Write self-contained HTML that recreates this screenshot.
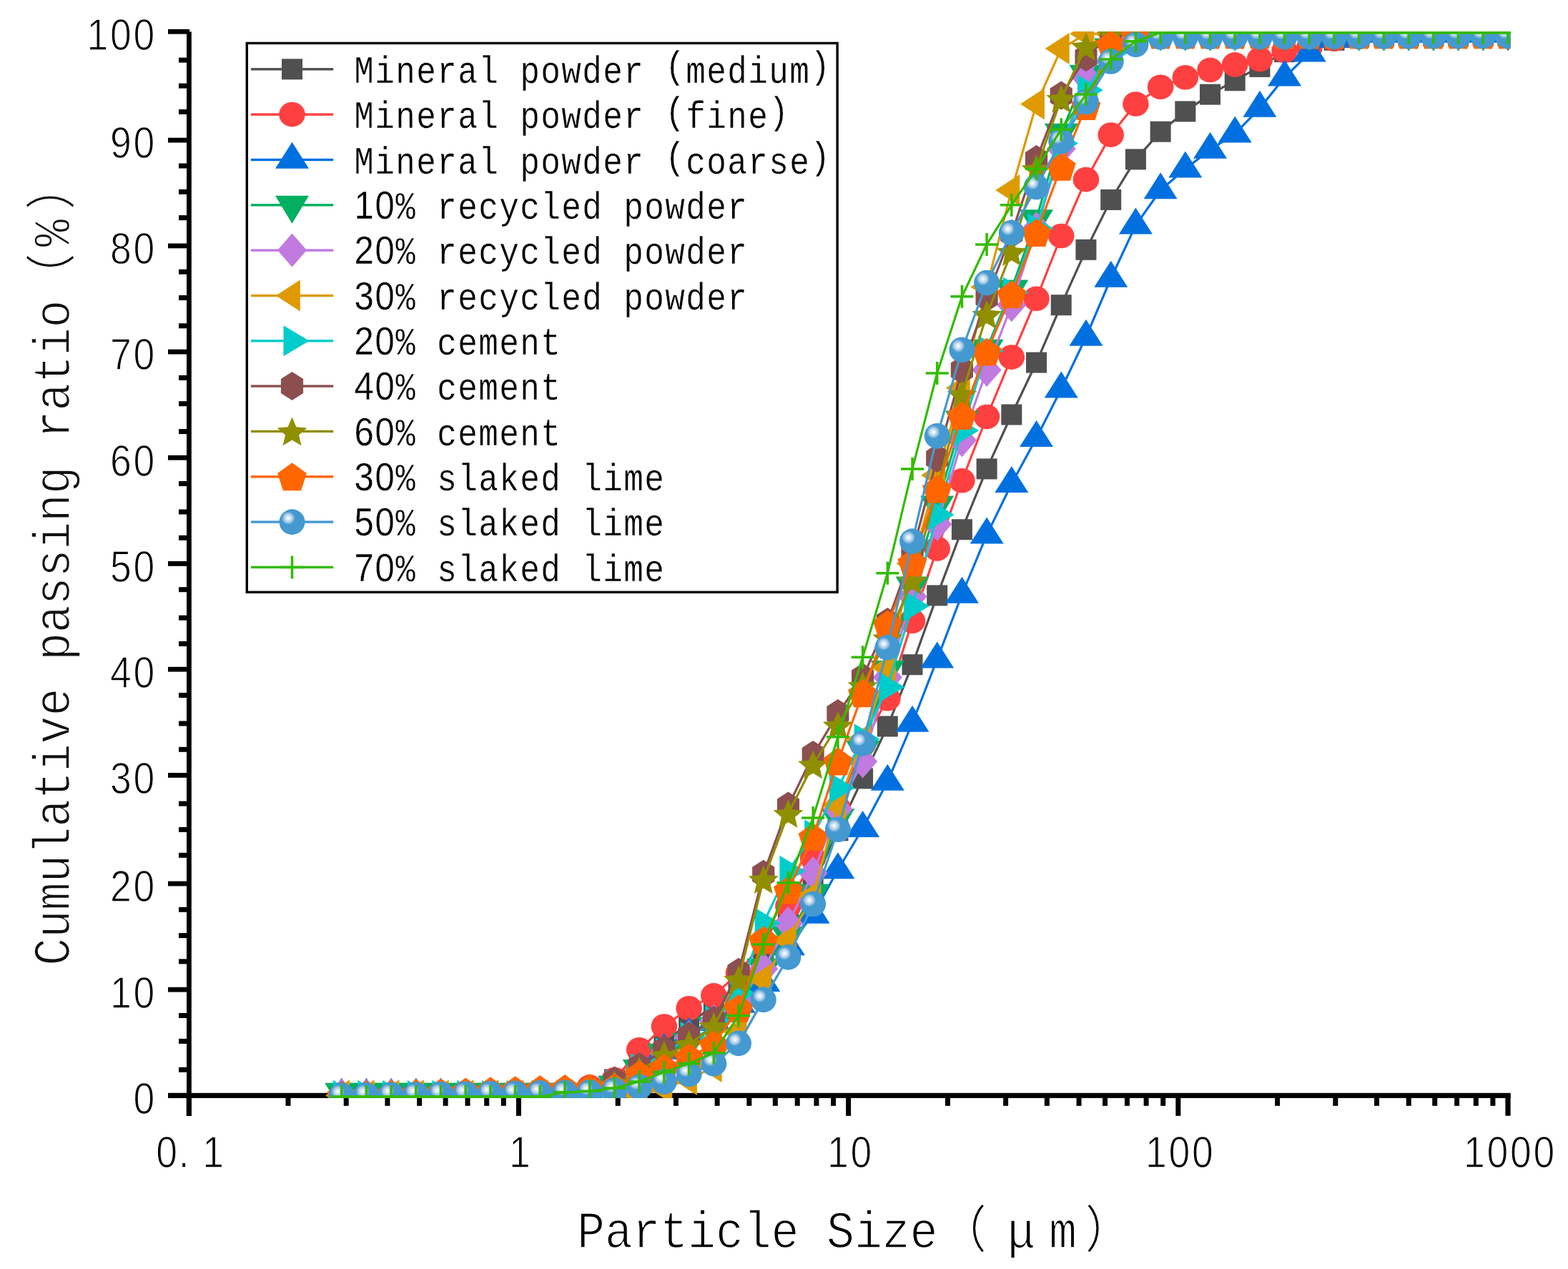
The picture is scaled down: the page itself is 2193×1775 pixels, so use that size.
<!DOCTYPE html><html><head><meta charset="utf-8"><style>html,body{margin:0;padding:0;background:#fff;overflow:hidden}svg{display:block}</style></head><body><svg width="2193" height="1775" viewBox="0 0 2193 1775"><defs><radialGradient id="gsp" cx="0.353" cy="0.35" r="0.26" fx="0.353" fy="0.35"><stop offset="0" stop-color="#ffffff"/><stop offset="0.3" stop-color="#dbe9f5"/><stop offset="0.65" stop-color="#a5c8e6"/><stop offset="1" stop-color="#4499D0"/></radialGradient><clipPath id="pc"><rect x="264" y="44.1" width="1848.8" height="1491.9"/></clipPath></defs><rect width="2193" height="1775" fill="#fff"/><rect x="261" y="44.4" width="6.8" height="1516.6" fill="#000"/><rect x="235" y="1528.8" width="1877.6" height="7.1" fill="#000"/><rect x="235" y="1528.9" width="30" height="6.8" fill="#000"/><rect x="235" y="1380.8" width="30" height="6.8" fill="#000"/><rect x="235" y="1232.6" width="30" height="6.8" fill="#000"/><rect x="235" y="1081.0" width="30" height="6.8" fill="#000"/><rect x="235" y="932.8" width="30" height="6.8" fill="#000"/><rect x="235" y="785.0" width="30" height="6.8" fill="#000"/><rect x="235" y="636.8" width="30" height="6.8" fill="#000"/><rect x="235" y="488.7" width="30" height="6.8" fill="#000"/><rect x="235" y="340.5" width="30" height="6.8" fill="#000"/><rect x="235" y="192.7" width="30" height="6.8" fill="#000"/><rect x="235" y="40.8" width="30" height="6.8" fill="#000"/><rect x="250" y="1417.0" width="15" height="7" fill="#000"/><rect x="250" y="1452.9" width="15" height="7" fill="#000"/><rect x="250" y="1492.8" width="15" height="7" fill="#000"/><rect x="250" y="1268.8" width="15" height="7" fill="#000"/><rect x="250" y="1305.1" width="15" height="7" fill="#000"/><rect x="250" y="1341.4" width="15" height="7" fill="#000"/><rect x="250" y="1120.6" width="15" height="7" fill="#000"/><rect x="250" y="1156.9" width="15" height="7" fill="#000"/><rect x="250" y="1192.8" width="15" height="7" fill="#000"/><rect x="250" y="969.0" width="15" height="7" fill="#000"/><rect x="250" y="1008.5" width="15" height="7" fill="#000"/><rect x="250" y="1044.8" width="15" height="7" fill="#000"/><rect x="250" y="821.2" width="15" height="7" fill="#000"/><rect x="250" y="860.7" width="15" height="7" fill="#000"/><rect x="250" y="897.0" width="15" height="7" fill="#000"/><rect x="250" y="673.0" width="15" height="7" fill="#000"/><rect x="250" y="712.5" width="15" height="7" fill="#000"/><rect x="250" y="748.8" width="15" height="7" fill="#000"/><rect x="250" y="524.9" width="15" height="7" fill="#000"/><rect x="250" y="561.2" width="15" height="7" fill="#000"/><rect x="250" y="600.1" width="15" height="7" fill="#000"/><rect x="250" y="376.7" width="15" height="7" fill="#000"/><rect x="250" y="413.0" width="15" height="7" fill="#000"/><rect x="250" y="452.3" width="15" height="7" fill="#000"/><rect x="250" y="228.5" width="15" height="7" fill="#000"/><rect x="250" y="264.8" width="15" height="7" fill="#000"/><rect x="250" y="301.1" width="15" height="7" fill="#000"/><rect x="250" y="80.6" width="15" height="7" fill="#000"/><rect x="250" y="116.6" width="15" height="7" fill="#000"/><rect x="250" y="152.9" width="15" height="7" fill="#000"/><rect x="260.7" y="1530" width="7" height="30.8" fill="#000"/><rect x="399.5" y="1530" width="7" height="16.8" fill="#000"/><rect x="480.7" y="1530" width="7" height="16.8" fill="#000"/><rect x="538.4" y="1530" width="7" height="16.8" fill="#000"/><rect x="583.1" y="1530" width="7" height="16.8" fill="#000"/><rect x="619.6" y="1530" width="7" height="16.8" fill="#000"/><rect x="650.5" y="1530" width="7" height="16.8" fill="#000"/><rect x="677.2" y="1530" width="7" height="16.8" fill="#000"/><rect x="700.8" y="1530" width="7" height="16.8" fill="#000"/><rect x="721.9" y="1530" width="7" height="30.8" fill="#000"/><rect x="860.7" y="1530" width="7" height="16.8" fill="#000"/><rect x="941.9" y="1530" width="7" height="16.8" fill="#000"/><rect x="999.6" y="1530" width="7" height="16.8" fill="#000"/><rect x="1044.3" y="1530" width="7" height="16.8" fill="#000"/><rect x="1080.8" y="1530" width="7" height="16.8" fill="#000"/><rect x="1111.7" y="1530" width="7" height="16.8" fill="#000"/><rect x="1138.4" y="1530" width="7" height="16.8" fill="#000"/><rect x="1162.0" y="1530" width="7" height="16.8" fill="#000"/><rect x="1183.1" y="1530" width="7" height="30.8" fill="#000"/><rect x="1321.9" y="1530" width="7" height="16.8" fill="#000"/><rect x="1403.1" y="1530" width="7" height="16.8" fill="#000"/><rect x="1460.8" y="1530" width="7" height="16.8" fill="#000"/><rect x="1505.5" y="1530" width="7" height="16.8" fill="#000"/><rect x="1542.0" y="1530" width="7" height="16.8" fill="#000"/><rect x="1572.9" y="1530" width="7" height="16.8" fill="#000"/><rect x="1599.6" y="1530" width="7" height="16.8" fill="#000"/><rect x="1623.2" y="1530" width="7" height="16.8" fill="#000"/><rect x="1644.3" y="1530" width="7" height="30.8" fill="#000"/><rect x="1783.1" y="1530" width="7" height="16.8" fill="#000"/><rect x="1864.3" y="1530" width="7" height="16.8" fill="#000"/><rect x="1922.0" y="1530" width="7" height="16.8" fill="#000"/><rect x="1966.7" y="1530" width="7" height="16.8" fill="#000"/><rect x="2003.2" y="1530" width="7" height="16.8" fill="#000"/><rect x="2034.1" y="1530" width="7" height="16.8" fill="#000"/><rect x="2060.8" y="1530" width="7" height="16.8" fill="#000"/><rect x="2084.4" y="1530" width="7" height="16.8" fill="#000"/><rect x="2105.4" y="1530" width="7.2" height="30.7" fill="#000"/><text transform="translate(185.0,1557.6) scale(1,1.16)" stroke="#fff" stroke-width="1.1" ><tspan font-family="Liberation Sans, sans-serif" font-size="53.5" x="1.4" y="0.0">0</tspan></text><text transform="translate(152.5,1409.5) scale(1,1.16)" stroke="#fff" stroke-width="1.1" ><tspan font-family="Liberation Sans, sans-serif" font-size="53.5" x="1.4 33.9" y="0.0 0.0">10</tspan></text><text transform="translate(152.5,1261.3) scale(1,1.16)" stroke="#fff" stroke-width="1.1" ><tspan font-family="Liberation Sans, sans-serif" font-size="53.5" x="1.4 33.9" y="0.0 0.0">20</tspan></text><text transform="translate(152.5,1109.7) scale(1,1.16)" stroke="#fff" stroke-width="1.1" ><tspan font-family="Liberation Sans, sans-serif" font-size="53.5" x="1.4 33.9" y="0.0 0.0">30</tspan></text><text transform="translate(152.5,961.5) scale(1,1.16)" stroke="#fff" stroke-width="1.1" ><tspan font-family="Liberation Sans, sans-serif" font-size="53.5" x="1.4 33.9" y="0.0 0.0">40</tspan></text><text transform="translate(152.5,813.7) scale(1,1.16)" stroke="#fff" stroke-width="1.1" ><tspan font-family="Liberation Sans, sans-serif" font-size="53.5" x="1.4 33.9" y="0.0 0.0">50</tspan></text><text transform="translate(152.5,665.5) scale(1,1.16)" stroke="#fff" stroke-width="1.1" ><tspan font-family="Liberation Sans, sans-serif" font-size="53.5" x="1.4 33.9" y="0.0 0.0">60</tspan></text><text transform="translate(152.5,517.4) scale(1,1.16)" stroke="#fff" stroke-width="1.1" ><tspan font-family="Liberation Sans, sans-serif" font-size="53.5" x="1.4 33.9" y="0.0 0.0">70</tspan></text><text transform="translate(152.5,369.2) scale(1,1.16)" stroke="#fff" stroke-width="1.1" ><tspan font-family="Liberation Sans, sans-serif" font-size="53.5" x="1.4 33.9" y="0.0 0.0">80</tspan></text><text transform="translate(152.5,221.4) scale(1,1.16)" stroke="#fff" stroke-width="1.1" ><tspan font-family="Liberation Sans, sans-serif" font-size="53.5" x="1.4 33.9" y="0.0 0.0">90</tspan></text><text transform="translate(120.0,69.5) scale(1,1.16)" stroke="#fff" stroke-width="1.1" ><tspan font-family="Liberation Sans, sans-serif" font-size="53.5" x="1.4 33.9 66.4" y="0.0 0.0 0.0">100</tspan></text><text transform="translate(216.9,1633.4) scale(1,1.16)" stroke="#fff" stroke-width="1.1" ><tspan font-family="Liberation Sans, sans-serif" font-size="53.5" x="1.4 32.8 66.4" y="0.0 0.0 0.0">0.1</tspan></text><text transform="translate(710.6,1633.4) scale(1,1.16)" stroke="#fff" stroke-width="1.1" ><tspan font-family="Liberation Sans, sans-serif" font-size="53.5" x="1.4" y="0.0">1</tspan></text><text transform="translate(1155.6,1633.4) scale(1,1.16)" stroke="#fff" stroke-width="1.1" ><tspan font-family="Liberation Sans, sans-serif" font-size="53.5" x="1.4 33.9" y="0.0 0.0">10</tspan></text><text transform="translate(1600.5,1633.4) scale(1,1.16)" stroke="#fff" stroke-width="1.1" ><tspan font-family="Liberation Sans, sans-serif" font-size="53.5" x="1.4 33.9 66.4" y="0.0 0.0 0.0">100</tspan></text><text transform="translate(2045.5,1633.4) scale(1,1.16)" stroke="#fff" stroke-width="1.1" ><tspan font-family="Liberation Sans, sans-serif" font-size="53.5" x="1.4 33.9 66.4 98.9" y="0.0 0.0 0.0 0.0">1000</tspan></text><text transform="translate(807,1744.5) scale(1,1.1)" font-family="Liberation Mono, Noto Sans CJK SC, monospace" font-size="65" fill="#000" stroke="#fff" stroke-width="1.4"><tspan x="-0.1 38.7 77.5 116.3 155.1 193.9 232.7 271.5 310.3 349.1 387.9 426.7 465.5">Particle Size</tspan><tspan x="508.1">（</tspan><tspan x="601.8">μ</tspan><tspan x="660.0">m</tspan><tspan x="710.5">）</tspan></text><text transform="translate(96.5,1350.7) rotate(-90) scale(1,1.1)" font-family="Liberation Mono, Noto Sans CJK SC, monospace" font-size="65" fill="#111" stroke="#fff" stroke-width="1.4"><tspan x="-0.1 38.7 77.5 116.3 155.1 193.9 232.7 271.5 310.3 349.1 387.9 426.7 465.5 504.3 543.1 581.9 620.7 659.5 698.3 737.1 775.9 814.7 853.5 892.3">Cumulative passing ratio</tspan><tspan x="931.6">（</tspan><tspan x="1005.3">%</tspan><tspan x="1057.2">）</tspan></text><g clip-path="url(#pc)"><g><path d="M477.7 1532.3 L512.4 1532.3 L547.1 1532.3 L581.8 1532.3 L616.5 1532.3 L651.2 1532.3 L685.9 1532.3 L720.6 1532.3 L755.3 1532.3 L790.1 1529.3 L824.8 1524.9 L859.5 1510.0 L894.2 1487.7 L928.9 1456.4 L963.6 1432.6 L998.3 1405.8 L1033.0 1376.1 L1067.7 1343.3 L1102.4 1286.8 L1137.1 1237.7 L1171.9 1161.8 L1206.6 1088.9 L1241.3 1016.0 L1276.0 929.7 L1310.7 832.9 L1345.4 740.7 L1380.1 655.9 L1414.8 580.0 L1449.5 507.1 L1484.2 426.7 L1518.9 349.3 L1553.7 279.4 L1588.4 222.9 L1623.1 184.2 L1657.8 155.9 L1692.5 132.1 L1727.2 112.7 L1761.9 93.4 L1796.6 72.6 L1831.3 62.2 L1866.0 56.2 L1900.7 51.7 L1935.5 50.3 L1970.2 50.3 L2004.9 50.3 L2039.6 50.3 L2074.3 50.3 L2109.0 50.3" stroke="#505050" stroke-width="3.2" fill="none" stroke-linejoin="round"/><rect x="463.2" y="1517.8" width="29" height="29" fill="#505050"/><rect x="497.9" y="1517.8" width="29" height="29" fill="#505050"/><rect x="532.6" y="1517.8" width="29" height="29" fill="#505050"/><rect x="567.3" y="1517.8" width="29" height="29" fill="#505050"/><rect x="602.0" y="1517.8" width="29" height="29" fill="#505050"/><rect x="636.7" y="1517.8" width="29" height="29" fill="#505050"/><rect x="671.4" y="1517.8" width="29" height="29" fill="#505050"/><rect x="706.1" y="1517.8" width="29" height="29" fill="#505050"/><rect x="740.8" y="1517.8" width="29" height="29" fill="#505050"/><rect x="775.6" y="1514.8" width="29" height="29" fill="#505050"/><rect x="810.3" y="1510.4" width="29" height="29" fill="#505050"/><rect x="845.0" y="1495.5" width="29" height="29" fill="#505050"/><rect x="879.7" y="1473.2" width="29" height="29" fill="#505050"/><rect x="914.4" y="1441.9" width="29" height="29" fill="#505050"/><rect x="949.1" y="1418.1" width="29" height="29" fill="#505050"/><rect x="983.8" y="1391.3" width="29" height="29" fill="#505050"/><rect x="1018.5" y="1361.6" width="29" height="29" fill="#505050"/><rect x="1053.2" y="1328.8" width="29" height="29" fill="#505050"/><rect x="1087.9" y="1272.3" width="29" height="29" fill="#505050"/><rect x="1122.6" y="1223.2" width="29" height="29" fill="#505050"/><rect x="1157.4" y="1147.3" width="29" height="29" fill="#505050"/><rect x="1192.1" y="1074.4" width="29" height="29" fill="#505050"/><rect x="1226.8" y="1001.5" width="29" height="29" fill="#505050"/><rect x="1261.5" y="915.2" width="29" height="29" fill="#505050"/><rect x="1296.2" y="818.4" width="29" height="29" fill="#505050"/><rect x="1330.9" y="726.2" width="29" height="29" fill="#505050"/><rect x="1365.6" y="641.4" width="29" height="29" fill="#505050"/><rect x="1400.3" y="565.5" width="29" height="29" fill="#505050"/><rect x="1435.0" y="492.6" width="29" height="29" fill="#505050"/><rect x="1469.7" y="412.2" width="29" height="29" fill="#505050"/><rect x="1504.4" y="334.8" width="29" height="29" fill="#505050"/><rect x="1539.2" y="264.9" width="29" height="29" fill="#505050"/><rect x="1573.9" y="208.4" width="29" height="29" fill="#505050"/><rect x="1608.6" y="169.7" width="29" height="29" fill="#505050"/><rect x="1643.3" y="141.4" width="29" height="29" fill="#505050"/><rect x="1678.0" y="117.6" width="29" height="29" fill="#505050"/><rect x="1712.7" y="98.2" width="29" height="29" fill="#505050"/><rect x="1747.4" y="78.9" width="29" height="29" fill="#505050"/><rect x="1782.1" y="58.1" width="29" height="29" fill="#505050"/><rect x="1816.8" y="47.7" width="29" height="29" fill="#505050"/><rect x="1851.5" y="41.7" width="29" height="29" fill="#505050"/><rect x="1886.2" y="37.2" width="29" height="29" fill="#505050"/><rect x="1921.0" y="35.8" width="29" height="29" fill="#505050"/><rect x="1955.7" y="35.8" width="29" height="29" fill="#505050"/><rect x="1990.4" y="35.8" width="29" height="29" fill="#505050"/><rect x="2025.1" y="35.8" width="29" height="29" fill="#505050"/><rect x="2059.8" y="35.8" width="29" height="29" fill="#505050"/><rect x="2094.5" y="35.8" width="29" height="29" fill="#505050"/></g><g><path d="M477.7 1532.3 L512.4 1532.3 L547.1 1532.3 L581.8 1532.3 L616.5 1532.3 L651.2 1532.3 L685.9 1532.3 L720.6 1532.3 L755.3 1532.3 L790.1 1532.3 L824.8 1520.4 L859.5 1510.0 L894.2 1468.3 L928.9 1435.6 L963.6 1410.3 L998.3 1392.4 L1033.0 1361.2 L1067.7 1316.5 L1102.4 1267.4 L1137.1 1200.5 L1171.9 1130.5 L1206.6 1041.3 L1241.3 977.3 L1276.0 868.7 L1310.7 767.5 L1345.4 672.2 L1380.1 583.0 L1414.8 499.6 L1449.5 417.8 L1484.2 330.0 L1518.9 251.1 L1553.7 188.6 L1588.4 145.5 L1623.1 121.7 L1657.8 108.3 L1692.5 97.9 L1727.2 90.4 L1761.9 83.0 L1796.6 71.1 L1831.3 66.6 L1866.0 54.7 L1900.7 51.7 L1935.5 50.3 L1970.2 50.3 L2004.9 50.3 L2039.6 50.3 L2074.3 50.3 L2109.0 50.3" stroke="#FF4040" stroke-width="3.2" fill="none" stroke-linejoin="round"/><ellipse cx="477.7" cy="1532.3" rx="18.3" ry="17.3" fill="#FF4040"/><ellipse cx="512.4" cy="1532.3" rx="18.3" ry="17.3" fill="#FF4040"/><ellipse cx="547.1" cy="1532.3" rx="18.3" ry="17.3" fill="#FF4040"/><ellipse cx="581.8" cy="1532.3" rx="18.3" ry="17.3" fill="#FF4040"/><ellipse cx="616.5" cy="1532.3" rx="18.3" ry="17.3" fill="#FF4040"/><ellipse cx="651.2" cy="1532.3" rx="18.3" ry="17.3" fill="#FF4040"/><ellipse cx="685.9" cy="1532.3" rx="18.3" ry="17.3" fill="#FF4040"/><ellipse cx="720.6" cy="1532.3" rx="18.3" ry="17.3" fill="#FF4040"/><ellipse cx="755.3" cy="1532.3" rx="18.3" ry="17.3" fill="#FF4040"/><ellipse cx="790.1" cy="1532.3" rx="18.3" ry="17.3" fill="#FF4040"/><ellipse cx="824.8" cy="1520.4" rx="18.3" ry="17.3" fill="#FF4040"/><ellipse cx="859.5" cy="1510.0" rx="18.3" ry="17.3" fill="#FF4040"/><ellipse cx="894.2" cy="1468.3" rx="18.3" ry="17.3" fill="#FF4040"/><ellipse cx="928.9" cy="1435.6" rx="18.3" ry="17.3" fill="#FF4040"/><ellipse cx="963.6" cy="1410.3" rx="18.3" ry="17.3" fill="#FF4040"/><ellipse cx="998.3" cy="1392.4" rx="18.3" ry="17.3" fill="#FF4040"/><ellipse cx="1033.0" cy="1361.2" rx="18.3" ry="17.3" fill="#FF4040"/><ellipse cx="1067.7" cy="1316.5" rx="18.3" ry="17.3" fill="#FF4040"/><ellipse cx="1102.4" cy="1267.4" rx="18.3" ry="17.3" fill="#FF4040"/><ellipse cx="1137.1" cy="1200.5" rx="18.3" ry="17.3" fill="#FF4040"/><ellipse cx="1171.9" cy="1130.5" rx="18.3" ry="17.3" fill="#FF4040"/><ellipse cx="1206.6" cy="1041.3" rx="18.3" ry="17.3" fill="#FF4040"/><ellipse cx="1241.3" cy="977.3" rx="18.3" ry="17.3" fill="#FF4040"/><ellipse cx="1276.0" cy="868.7" rx="18.3" ry="17.3" fill="#FF4040"/><ellipse cx="1310.7" cy="767.5" rx="18.3" ry="17.3" fill="#FF4040"/><ellipse cx="1345.4" cy="672.2" rx="18.3" ry="17.3" fill="#FF4040"/><ellipse cx="1380.1" cy="583.0" rx="18.3" ry="17.3" fill="#FF4040"/><ellipse cx="1414.8" cy="499.6" rx="18.3" ry="17.3" fill="#FF4040"/><ellipse cx="1449.5" cy="417.8" rx="18.3" ry="17.3" fill="#FF4040"/><ellipse cx="1484.2" cy="330.0" rx="18.3" ry="17.3" fill="#FF4040"/><ellipse cx="1518.9" cy="251.1" rx="18.3" ry="17.3" fill="#FF4040"/><ellipse cx="1553.7" cy="188.6" rx="18.3" ry="17.3" fill="#FF4040"/><ellipse cx="1588.4" cy="145.5" rx="18.3" ry="17.3" fill="#FF4040"/><ellipse cx="1623.1" cy="121.7" rx="18.3" ry="17.3" fill="#FF4040"/><ellipse cx="1657.8" cy="108.3" rx="18.3" ry="17.3" fill="#FF4040"/><ellipse cx="1692.5" cy="97.9" rx="18.3" ry="17.3" fill="#FF4040"/><ellipse cx="1727.2" cy="90.4" rx="18.3" ry="17.3" fill="#FF4040"/><ellipse cx="1761.9" cy="83.0" rx="18.3" ry="17.3" fill="#FF4040"/><ellipse cx="1796.6" cy="71.1" rx="18.3" ry="17.3" fill="#FF4040"/><ellipse cx="1831.3" cy="66.6" rx="18.3" ry="17.3" fill="#FF4040"/><ellipse cx="1866.0" cy="54.7" rx="18.3" ry="17.3" fill="#FF4040"/><ellipse cx="1900.7" cy="51.7" rx="18.3" ry="17.3" fill="#FF4040"/><ellipse cx="1935.5" cy="50.3" rx="18.3" ry="17.3" fill="#FF4040"/><ellipse cx="1970.2" cy="50.3" rx="18.3" ry="17.3" fill="#FF4040"/><ellipse cx="2004.9" cy="50.3" rx="18.3" ry="17.3" fill="#FF4040"/><ellipse cx="2039.6" cy="50.3" rx="18.3" ry="17.3" fill="#FF4040"/><ellipse cx="2074.3" cy="50.3" rx="18.3" ry="17.3" fill="#FF4040"/><ellipse cx="2109.0" cy="50.3" rx="18.3" ry="17.3" fill="#FF4040"/></g><g><path d="M477.7 1532.3 L512.4 1532.3 L547.1 1532.3 L581.8 1532.3 L616.5 1532.3 L651.2 1532.3 L685.9 1532.3 L720.6 1532.3 L755.3 1532.3 L790.1 1532.3 L824.8 1532.3 L859.5 1524.9 L894.2 1502.5 L928.9 1469.8 L963.6 1447.5 L998.3 1429.6 L1033.0 1404.3 L1067.7 1374.6 L1102.4 1324.0 L1137.1 1279.3 L1171.9 1216.8 L1206.6 1158.8 L1241.3 1093.3 L1276.0 1011.5 L1310.7 922.2 L1345.4 831.5 L1380.1 748.1 L1414.8 676.7 L1449.5 612.7 L1484.2 544.3 L1518.9 471.4 L1553.7 389.5 L1588.4 315.1 L1623.1 266.0 L1657.8 236.3 L1692.5 209.5 L1727.2 187.1 L1761.9 151.4 L1796.6 108.3 L1831.3 74.1 L1866.0 54.7 L1900.7 47.3 L1935.5 47.3 L1970.2 47.3 L2004.9 47.3 L2039.6 47.3 L2074.3 47.3 L2109.0 47.3" stroke="#0070E0" stroke-width="3.2" fill="none" stroke-linejoin="round"/><polygon points="477.7,1507.6 501.2,1544.6 454.2,1544.6" fill="#0070E0"/><polygon points="512.4,1507.6 535.9,1544.6 488.9,1544.6" fill="#0070E0"/><polygon points="547.1,1507.6 570.6,1544.6 523.6,1544.6" fill="#0070E0"/><polygon points="581.8,1507.6 605.3,1544.6 558.3,1544.6" fill="#0070E0"/><polygon points="616.5,1507.6 640.0,1544.6 593.0,1544.6" fill="#0070E0"/><polygon points="651.2,1507.6 674.7,1544.6 627.7,1544.6" fill="#0070E0"/><polygon points="685.9,1507.6 709.4,1544.6 662.4,1544.6" fill="#0070E0"/><polygon points="720.6,1507.6 744.1,1544.6 697.1,1544.6" fill="#0070E0"/><polygon points="755.3,1507.6 778.8,1544.6 731.8,1544.6" fill="#0070E0"/><polygon points="790.1,1507.6 813.6,1544.6 766.6,1544.6" fill="#0070E0"/><polygon points="824.8,1507.6 848.3,1544.6 801.3,1544.6" fill="#0070E0"/><polygon points="859.5,1500.2 883.0,1537.2 836.0,1537.2" fill="#0070E0"/><polygon points="894.2,1477.9 917.7,1514.9 870.7,1514.9" fill="#0070E0"/><polygon points="928.9,1445.1 952.4,1482.1 905.4,1482.1" fill="#0070E0"/><polygon points="963.6,1422.8 987.1,1459.8 940.1,1459.8" fill="#0070E0"/><polygon points="998.3,1405.0 1021.8,1442.0 974.8,1442.0" fill="#0070E0"/><polygon points="1033.0,1379.7 1056.5,1416.7 1009.5,1416.7" fill="#0070E0"/><polygon points="1067.7,1349.9 1091.2,1386.9 1044.2,1386.9" fill="#0070E0"/><polygon points="1102.4,1299.3 1125.9,1336.3 1078.9,1336.3" fill="#0070E0"/><polygon points="1137.1,1254.7 1160.6,1291.7 1113.6,1291.7" fill="#0070E0"/><polygon points="1171.9,1192.2 1195.4,1229.2 1148.4,1229.2" fill="#0070E0"/><polygon points="1206.6,1134.1 1230.1,1171.1 1183.1,1171.1" fill="#0070E0"/><polygon points="1241.3,1068.7 1264.8,1105.7 1217.8,1105.7" fill="#0070E0"/><polygon points="1276.0,986.8 1299.5,1023.8 1252.5,1023.8" fill="#0070E0"/><polygon points="1310.7,897.6 1334.2,934.6 1287.2,934.6" fill="#0070E0"/><polygon points="1345.4,806.8 1368.9,843.8 1321.9,843.8" fill="#0070E0"/><polygon points="1380.1,723.5 1403.6,760.5 1356.6,760.5" fill="#0070E0"/><polygon points="1414.8,652.0 1438.3,689.0 1391.3,689.0" fill="#0070E0"/><polygon points="1449.5,588.0 1473.0,625.0 1426.0,625.0" fill="#0070E0"/><polygon points="1484.2,519.6 1507.7,556.6 1460.7,556.6" fill="#0070E0"/><polygon points="1518.9,446.7 1542.4,483.7 1495.4,483.7" fill="#0070E0"/><polygon points="1553.7,364.8 1577.2,401.8 1530.2,401.8" fill="#0070E0"/><polygon points="1588.4,290.4 1611.9,327.4 1564.9,327.4" fill="#0070E0"/><polygon points="1623.1,241.3 1646.6,278.3 1599.6,278.3" fill="#0070E0"/><polygon points="1657.8,211.6 1681.3,248.6 1634.3,248.6" fill="#0070E0"/><polygon points="1692.5,184.8 1716.0,221.8 1669.0,221.8" fill="#0070E0"/><polygon points="1727.2,162.5 1750.7,199.5 1703.7,199.5" fill="#0070E0"/><polygon points="1761.9,126.8 1785.4,163.8 1738.4,163.8" fill="#0070E0"/><polygon points="1796.6,83.6 1820.1,120.6 1773.1,120.6" fill="#0070E0"/><polygon points="1831.3,49.4 1854.8,86.4 1807.8,86.4" fill="#0070E0"/><polygon points="1866.0,30.0 1889.5,67.0 1842.5,67.0" fill="#0070E0"/><polygon points="1900.7,22.6 1924.2,59.6 1877.2,59.6" fill="#0070E0"/><polygon points="1935.5,22.6 1959.0,59.6 1912.0,59.6" fill="#0070E0"/><polygon points="1970.2,22.6 1993.7,59.6 1946.7,59.6" fill="#0070E0"/><polygon points="2004.9,22.6 2028.4,59.6 1981.4,59.6" fill="#0070E0"/><polygon points="2039.6,22.6 2063.1,59.6 2016.1,59.6" fill="#0070E0"/><polygon points="2074.3,22.6 2097.8,59.6 2050.8,59.6" fill="#0070E0"/><polygon points="2109.0,22.6 2132.5,59.6 2085.5,59.6" fill="#0070E0"/></g><g><path d="M477.7 1527.8 L512.4 1527.8 L547.1 1527.8 L581.8 1527.8 L616.5 1527.8 L651.2 1527.8 L685.9 1527.8 L720.6 1527.8 L755.3 1527.8 L790.1 1527.8 L824.8 1532.3 L859.5 1517.4 L894.2 1495.1 L928.9 1472.8 L963.6 1457.9 L998.3 1435.6 L1033.0 1405.8 L1067.7 1353.7 L1102.4 1309.1 L1137.1 1249.6 L1171.9 1143.9 L1206.6 1048.7 L1241.3 937.1 L1276.0 819.5 L1310.7 706.5 L1345.4 587.4 L1380.1 487.7 L1414.8 404.4 L1449.5 306.2 L1484.2 185.7 L1518.9 103.8 L1553.7 66.6 L1588.4 51.7 L1623.1 45.8 L1657.8 45.8 L1692.5 45.8 L1727.2 45.8 L1761.9 45.8 L1796.6 45.8 L1831.3 45.8 L1866.0 45.8 L1900.7 45.8 L1935.5 45.8 L1970.2 45.8 L2004.9 45.8 L2039.6 45.8 L2074.3 45.8 L2109.0 45.8" stroke="#00B060" stroke-width="3.2" fill="none" stroke-linejoin="round"/><polygon points="477.7,1553.8 501.2,1514.8 454.2,1514.8" fill="#00B060"/><polygon points="512.4,1553.8 535.9,1514.8 488.9,1514.8" fill="#00B060"/><polygon points="547.1,1553.8 570.6,1514.8 523.6,1514.8" fill="#00B060"/><polygon points="581.8,1553.8 605.3,1514.8 558.3,1514.8" fill="#00B060"/><polygon points="616.5,1553.8 640.0,1514.8 593.0,1514.8" fill="#00B060"/><polygon points="651.2,1553.8 674.7,1514.8 627.7,1514.8" fill="#00B060"/><polygon points="685.9,1553.8 709.4,1514.8 662.4,1514.8" fill="#00B060"/><polygon points="720.6,1553.8 744.1,1514.8 697.1,1514.8" fill="#00B060"/><polygon points="755.3,1553.8 778.8,1514.8 731.8,1514.8" fill="#00B060"/><polygon points="790.1,1553.8 813.6,1514.8 766.6,1514.8" fill="#00B060"/><polygon points="824.8,1558.3 848.3,1519.3 801.3,1519.3" fill="#00B060"/><polygon points="859.5,1543.4 883.0,1504.4 836.0,1504.4" fill="#00B060"/><polygon points="894.2,1521.1 917.7,1482.1 870.7,1482.1" fill="#00B060"/><polygon points="928.9,1498.8 952.4,1459.8 905.4,1459.8" fill="#00B060"/><polygon points="963.6,1483.9 987.1,1444.9 940.1,1444.9" fill="#00B060"/><polygon points="998.3,1461.6 1021.8,1422.6 974.8,1422.6" fill="#00B060"/><polygon points="1033.0,1431.8 1056.5,1392.8 1009.5,1392.8" fill="#00B060"/><polygon points="1067.7,1379.7 1091.2,1340.7 1044.2,1340.7" fill="#00B060"/><polygon points="1102.4,1335.1 1125.9,1296.1 1078.9,1296.1" fill="#00B060"/><polygon points="1137.1,1275.6 1160.6,1236.6 1113.6,1236.6" fill="#00B060"/><polygon points="1171.9,1169.9 1195.4,1130.9 1148.4,1130.9" fill="#00B060"/><polygon points="1206.6,1074.7 1230.1,1035.7 1183.1,1035.7" fill="#00B060"/><polygon points="1241.3,963.1 1264.8,924.1 1217.8,924.1" fill="#00B060"/><polygon points="1276.0,845.5 1299.5,806.5 1252.5,806.5" fill="#00B060"/><polygon points="1310.7,732.5 1334.2,693.5 1287.2,693.5" fill="#00B060"/><polygon points="1345.4,613.4 1368.9,574.4 1321.9,574.4" fill="#00B060"/><polygon points="1380.1,513.7 1403.6,474.7 1356.6,474.7" fill="#00B060"/><polygon points="1414.8,430.4 1438.3,391.4 1391.3,391.4" fill="#00B060"/><polygon points="1449.5,332.2 1473.0,293.2 1426.0,293.2" fill="#00B060"/><polygon points="1484.2,211.7 1507.7,172.7 1460.7,172.7" fill="#00B060"/><polygon points="1518.9,129.8 1542.4,90.8 1495.4,90.8" fill="#00B060"/><polygon points="1553.7,92.6 1577.2,53.6 1530.2,53.6" fill="#00B060"/><polygon points="1588.4,77.7 1611.9,38.7 1564.9,38.7" fill="#00B060"/><polygon points="1623.1,71.8 1646.6,32.8 1599.6,32.8" fill="#00B060"/><polygon points="1657.8,71.8 1681.3,32.8 1634.3,32.8" fill="#00B060"/><polygon points="1692.5,71.8 1716.0,32.8 1669.0,32.8" fill="#00B060"/><polygon points="1727.2,71.8 1750.7,32.8 1703.7,32.8" fill="#00B060"/><polygon points="1761.9,71.8 1785.4,32.8 1738.4,32.8" fill="#00B060"/><polygon points="1796.6,71.8 1820.1,32.8 1773.1,32.8" fill="#00B060"/><polygon points="1831.3,71.8 1854.8,32.8 1807.8,32.8" fill="#00B060"/><polygon points="1866.0,71.8 1889.5,32.8 1842.5,32.8" fill="#00B060"/><polygon points="1900.7,71.8 1924.2,32.8 1877.2,32.8" fill="#00B060"/><polygon points="1935.5,71.8 1959.0,32.8 1912.0,32.8" fill="#00B060"/><polygon points="1970.2,71.8 1993.7,32.8 1946.7,32.8" fill="#00B060"/><polygon points="2004.9,71.8 2028.4,32.8 1981.4,32.8" fill="#00B060"/><polygon points="2039.6,71.8 2063.1,32.8 2016.1,32.8" fill="#00B060"/><polygon points="2074.3,71.8 2097.8,32.8 2050.8,32.8" fill="#00B060"/><polygon points="2109.0,71.8 2132.5,32.8 2085.5,32.8" fill="#00B060"/></g><g><path d="M477.7 1532.3 L512.4 1532.3 L547.1 1532.3 L581.8 1532.3 L616.5 1532.3 L651.2 1532.3 L685.9 1532.3 L720.6 1532.3 L755.3 1532.3 L790.1 1532.3 L824.8 1532.3 L859.5 1517.4 L894.2 1495.1 L928.9 1472.8 L963.6 1450.5 L998.3 1428.1 L1033.0 1398.4 L1067.7 1355.2 L1102.4 1291.2 L1137.1 1221.3 L1171.9 1132.0 L1206.6 1065.1 L1241.3 947.5 L1276.0 834.4 L1310.7 733.2 L1345.4 615.7 L1380.1 517.5 L1414.8 426.7 L1449.5 319.6 L1484.2 208.0 L1518.9 108.3 L1553.7 59.2 L1588.4 45.8 L1623.1 45.8 L1657.8 45.8 L1692.5 45.8 L1727.2 45.8 L1761.9 45.8 L1796.6 45.8 L1831.3 45.8 L1866.0 45.8 L1900.7 45.8 L1935.5 45.8 L1970.2 45.8 L2004.9 45.8 L2039.6 45.8 L2074.3 45.8 L2109.0 45.8" stroke="#C07AE0" stroke-width="3.2" fill="none" stroke-linejoin="round"/><polygon points="477.7,1508.8 498.2,1532.3 477.7,1555.8 457.2,1532.3" fill="#C07AE0"/><polygon points="512.4,1508.8 532.9,1532.3 512.4,1555.8 491.9,1532.3" fill="#C07AE0"/><polygon points="547.1,1508.8 567.6,1532.3 547.1,1555.8 526.6,1532.3" fill="#C07AE0"/><polygon points="581.8,1508.8 602.3,1532.3 581.8,1555.8 561.3,1532.3" fill="#C07AE0"/><polygon points="616.5,1508.8 637.0,1532.3 616.5,1555.8 596.0,1532.3" fill="#C07AE0"/><polygon points="651.2,1508.8 671.7,1532.3 651.2,1555.8 630.7,1532.3" fill="#C07AE0"/><polygon points="685.9,1508.8 706.4,1532.3 685.9,1555.8 665.4,1532.3" fill="#C07AE0"/><polygon points="720.6,1508.8 741.1,1532.3 720.6,1555.8 700.1,1532.3" fill="#C07AE0"/><polygon points="755.3,1508.8 775.8,1532.3 755.3,1555.8 734.8,1532.3" fill="#C07AE0"/><polygon points="790.1,1508.8 810.6,1532.3 790.1,1555.8 769.6,1532.3" fill="#C07AE0"/><polygon points="824.8,1508.8 845.3,1532.3 824.8,1555.8 804.3,1532.3" fill="#C07AE0"/><polygon points="859.5,1493.9 880.0,1517.4 859.5,1540.9 839.0,1517.4" fill="#C07AE0"/><polygon points="894.2,1471.6 914.7,1495.1 894.2,1518.6 873.7,1495.1" fill="#C07AE0"/><polygon points="928.9,1449.3 949.4,1472.8 928.9,1496.3 908.4,1472.8" fill="#C07AE0"/><polygon points="963.6,1427.0 984.1,1450.5 963.6,1474.0 943.1,1450.5" fill="#C07AE0"/><polygon points="998.3,1404.6 1018.8,1428.1 998.3,1451.6 977.8,1428.1" fill="#C07AE0"/><polygon points="1033.0,1374.9 1053.5,1398.4 1033.0,1421.9 1012.5,1398.4" fill="#C07AE0"/><polygon points="1067.7,1331.7 1088.2,1355.2 1067.7,1378.7 1047.2,1355.2" fill="#C07AE0"/><polygon points="1102.4,1267.7 1122.9,1291.2 1102.4,1314.7 1081.9,1291.2" fill="#C07AE0"/><polygon points="1137.1,1197.8 1157.6,1221.3 1137.1,1244.8 1116.6,1221.3" fill="#C07AE0"/><polygon points="1171.9,1108.5 1192.4,1132.0 1171.9,1155.5 1151.4,1132.0" fill="#C07AE0"/><polygon points="1206.6,1041.6 1227.1,1065.1 1206.6,1088.6 1186.1,1065.1" fill="#C07AE0"/><polygon points="1241.3,924.0 1261.8,947.5 1241.3,971.0 1220.8,947.5" fill="#C07AE0"/><polygon points="1276.0,810.9 1296.5,834.4 1276.0,857.9 1255.5,834.4" fill="#C07AE0"/><polygon points="1310.7,709.7 1331.2,733.2 1310.7,756.7 1290.2,733.2" fill="#C07AE0"/><polygon points="1345.4,592.2 1365.9,615.7 1345.4,639.2 1324.9,615.7" fill="#C07AE0"/><polygon points="1380.1,494.0 1400.6,517.5 1380.1,541.0 1359.6,517.5" fill="#C07AE0"/><polygon points="1414.8,403.2 1435.3,426.7 1414.8,450.2 1394.3,426.7" fill="#C07AE0"/><polygon points="1449.5,296.1 1470.0,319.6 1449.5,343.1 1429.0,319.6" fill="#C07AE0"/><polygon points="1484.2,184.5 1504.7,208.0 1484.2,231.5 1463.7,208.0" fill="#C07AE0"/><polygon points="1518.9,84.8 1539.4,108.3 1518.9,131.8 1498.4,108.3" fill="#C07AE0"/><polygon points="1553.7,35.7 1574.2,59.2 1553.7,82.7 1533.2,59.2" fill="#C07AE0"/><polygon points="1588.4,22.3 1608.9,45.8 1588.4,69.3 1567.9,45.8" fill="#C07AE0"/><polygon points="1623.1,22.3 1643.6,45.8 1623.1,69.3 1602.6,45.8" fill="#C07AE0"/><polygon points="1657.8,22.3 1678.3,45.8 1657.8,69.3 1637.3,45.8" fill="#C07AE0"/><polygon points="1692.5,22.3 1713.0,45.8 1692.5,69.3 1672.0,45.8" fill="#C07AE0"/><polygon points="1727.2,22.3 1747.7,45.8 1727.2,69.3 1706.7,45.8" fill="#C07AE0"/><polygon points="1761.9,22.3 1782.4,45.8 1761.9,69.3 1741.4,45.8" fill="#C07AE0"/><polygon points="1796.6,22.3 1817.1,45.8 1796.6,69.3 1776.1,45.8" fill="#C07AE0"/><polygon points="1831.3,22.3 1851.8,45.8 1831.3,69.3 1810.8,45.8" fill="#C07AE0"/><polygon points="1866.0,22.3 1886.5,45.8 1866.0,69.3 1845.5,45.8" fill="#C07AE0"/><polygon points="1900.7,22.3 1921.2,45.8 1900.7,69.3 1880.2,45.8" fill="#C07AE0"/><polygon points="1935.5,22.3 1956.0,45.8 1935.5,69.3 1915.0,45.8" fill="#C07AE0"/><polygon points="1970.2,22.3 1990.7,45.8 1970.2,69.3 1949.7,45.8" fill="#C07AE0"/><polygon points="2004.9,22.3 2025.4,45.8 2004.9,69.3 1984.4,45.8" fill="#C07AE0"/><polygon points="2039.6,22.3 2060.1,45.8 2039.6,69.3 2019.1,45.8" fill="#C07AE0"/><polygon points="2074.3,22.3 2094.8,45.8 2074.3,69.3 2053.8,45.8" fill="#C07AE0"/><polygon points="2109.0,22.3 2129.5,45.8 2109.0,69.3 2088.5,45.8" fill="#C07AE0"/></g><g><path d="M477.7 1532.3 L512.4 1532.3 L547.1 1532.3 L581.8 1532.3 L616.5 1532.3 L651.2 1532.3 L685.9 1532.3 L720.6 1532.3 L755.3 1532.3 L790.1 1532.3 L824.8 1532.3 L859.5 1532.3 L894.2 1532.3 L928.9 1521.9 L963.6 1510.0 L998.3 1492.1 L1033.0 1443.0 L1067.7 1370.1 L1102.4 1315.1 L1137.1 1252.6 L1171.9 1126.1 L1206.6 1033.8 L1241.3 934.1 L1276.0 788.3 L1310.7 664.8 L1345.4 542.8 L1380.1 401.4 L1414.8 266.0 L1449.5 145.5 L1484.2 68.1 L1518.9 47.3 L1553.7 47.3 L1588.4 47.3 L1623.1 47.3 L1657.8 47.3 L1692.5 47.3 L1727.2 47.3 L1761.9 47.3 L1796.6 47.3 L1831.3 47.3 L1866.0 47.3 L1900.7 47.3 L1935.5 47.3 L1970.2 47.3 L2004.9 47.3 L2039.6 47.3 L2074.3 47.3 L2109.0 47.3" stroke="#DE9A00" stroke-width="3.2" fill="none" stroke-linejoin="round"/><polygon points="455.0,1532.3 489.0,1510.3 489.0,1554.3" fill="#DE9A00"/><polygon points="489.7,1532.3 523.7,1510.3 523.7,1554.3" fill="#DE9A00"/><polygon points="524.4,1532.3 558.4,1510.3 558.4,1554.3" fill="#DE9A00"/><polygon points="559.1,1532.3 593.1,1510.3 593.1,1554.3" fill="#DE9A00"/><polygon points="593.8,1532.3 627.8,1510.3 627.8,1554.3" fill="#DE9A00"/><polygon points="628.6,1532.3 662.6,1510.3 662.6,1554.3" fill="#DE9A00"/><polygon points="663.3,1532.3 697.3,1510.3 697.3,1554.3" fill="#DE9A00"/><polygon points="698.0,1532.3 732.0,1510.3 732.0,1554.3" fill="#DE9A00"/><polygon points="732.7,1532.3 766.7,1510.3 766.7,1554.3" fill="#DE9A00"/><polygon points="767.4,1532.3 801.4,1510.3 801.4,1554.3" fill="#DE9A00"/><polygon points="802.1,1532.3 836.1,1510.3 836.1,1554.3" fill="#DE9A00"/><polygon points="836.8,1532.3 870.8,1510.3 870.8,1554.3" fill="#DE9A00"/><polygon points="871.5,1532.3 905.5,1510.3 905.5,1554.3" fill="#DE9A00"/><polygon points="906.2,1521.9 940.2,1499.9 940.2,1543.9" fill="#DE9A00"/><polygon points="940.9,1510.0 974.9,1488.0 974.9,1532.0" fill="#DE9A00"/><polygon points="975.6,1492.1 1009.6,1470.1 1009.6,1514.1" fill="#DE9A00"/><polygon points="1010.4,1443.0 1044.4,1421.0 1044.4,1465.0" fill="#DE9A00"/><polygon points="1045.1,1370.1 1079.1,1348.1 1079.1,1392.1" fill="#DE9A00"/><polygon points="1079.8,1315.1 1113.8,1293.1 1113.8,1337.1" fill="#DE9A00"/><polygon points="1114.5,1252.6 1148.5,1230.6 1148.5,1274.6" fill="#DE9A00"/><polygon points="1149.2,1126.1 1183.2,1104.1 1183.2,1148.1" fill="#DE9A00"/><polygon points="1183.9,1033.8 1217.9,1011.8 1217.9,1055.8" fill="#DE9A00"/><polygon points="1218.6,934.1 1252.6,912.1 1252.6,956.1" fill="#DE9A00"/><polygon points="1253.3,788.3 1287.3,766.3 1287.3,810.3" fill="#DE9A00"/><polygon points="1288.0,664.8 1322.0,642.8 1322.0,686.8" fill="#DE9A00"/><polygon points="1322.7,542.8 1356.7,520.8 1356.7,564.8" fill="#DE9A00"/><polygon points="1357.4,401.4 1391.4,379.4 1391.4,423.4" fill="#DE9A00"/><polygon points="1392.2,266.0 1426.2,244.0 1426.2,288.0" fill="#DE9A00"/><polygon points="1426.9,145.5 1460.9,123.5 1460.9,167.5" fill="#DE9A00"/><polygon points="1461.6,68.1 1495.6,46.1 1495.6,90.1" fill="#DE9A00"/><polygon points="1496.3,47.3 1530.3,25.3 1530.3,69.3" fill="#DE9A00"/><polygon points="1531.0,47.3 1565.0,25.3 1565.0,69.3" fill="#DE9A00"/><polygon points="1565.7,47.3 1599.7,25.3 1599.7,69.3" fill="#DE9A00"/><polygon points="1600.4,47.3 1634.4,25.3 1634.4,69.3" fill="#DE9A00"/><polygon points="1635.1,47.3 1669.1,25.3 1669.1,69.3" fill="#DE9A00"/><polygon points="1669.8,47.3 1703.8,25.3 1703.8,69.3" fill="#DE9A00"/><polygon points="1704.5,47.3 1738.5,25.3 1738.5,69.3" fill="#DE9A00"/><polygon points="1739.2,47.3 1773.2,25.3 1773.2,69.3" fill="#DE9A00"/><polygon points="1774.0,47.3 1808.0,25.3 1808.0,69.3" fill="#DE9A00"/><polygon points="1808.7,47.3 1842.7,25.3 1842.7,69.3" fill="#DE9A00"/><polygon points="1843.4,47.3 1877.4,25.3 1877.4,69.3" fill="#DE9A00"/><polygon points="1878.1,47.3 1912.1,25.3 1912.1,69.3" fill="#DE9A00"/><polygon points="1912.8,47.3 1946.8,25.3 1946.8,69.3" fill="#DE9A00"/><polygon points="1947.5,47.3 1981.5,25.3 1981.5,69.3" fill="#DE9A00"/><polygon points="1982.2,47.3 2016.2,25.3 2016.2,69.3" fill="#DE9A00"/><polygon points="2016.9,47.3 2050.9,25.3 2050.9,69.3" fill="#DE9A00"/><polygon points="2051.6,47.3 2085.6,25.3 2085.6,69.3" fill="#DE9A00"/><polygon points="2086.3,47.3 2120.3,25.3 2120.3,69.3" fill="#DE9A00"/></g><g><path d="M477.7 1532.3 L512.4 1532.3 L547.1 1532.3 L581.8 1532.3 L616.5 1532.3 L651.2 1532.3 L685.9 1532.3 L720.6 1532.3 L755.3 1532.3 L790.1 1532.3 L824.8 1532.3 L859.5 1517.4 L894.2 1495.1 L928.9 1472.8 L963.6 1450.5 L998.3 1428.1 L1033.0 1389.5 L1067.7 1291.2 L1102.4 1218.3 L1137.1 1167.7 L1171.9 1102.3 L1206.6 1033.8 L1241.3 960.9 L1276.0 847.8 L1310.7 719.9 L1345.4 602.3 L1380.1 490.7 L1414.8 408.9 L1449.5 319.6 L1484.2 200.5 L1518.9 126.1 L1553.7 74.1 L1588.4 51.7 L1623.1 47.3 L1657.8 47.3 L1692.5 47.3 L1727.2 47.3 L1761.9 47.3 L1796.6 47.3 L1831.3 47.3 L1866.0 47.3 L1900.7 47.3 L1935.5 47.3 L1970.2 47.3 L2004.9 47.3 L2039.6 47.3 L2074.3 47.3 L2109.0 47.3" stroke="#00CCCC" stroke-width="3.2" fill="none" stroke-linejoin="round"/><polygon points="501.7,1532.3 465.7,1510.8 465.7,1553.8" fill="#00CCCC"/><polygon points="536.4,1532.3 500.4,1510.8 500.4,1553.8" fill="#00CCCC"/><polygon points="571.1,1532.3 535.1,1510.8 535.1,1553.8" fill="#00CCCC"/><polygon points="605.8,1532.3 569.8,1510.8 569.8,1553.8" fill="#00CCCC"/><polygon points="640.5,1532.3 604.5,1510.8 604.5,1553.8" fill="#00CCCC"/><polygon points="675.2,1532.3 639.2,1510.8 639.2,1553.8" fill="#00CCCC"/><polygon points="709.9,1532.3 673.9,1510.8 673.9,1553.8" fill="#00CCCC"/><polygon points="744.6,1532.3 708.6,1510.8 708.6,1553.8" fill="#00CCCC"/><polygon points="779.3,1532.3 743.3,1510.8 743.3,1553.8" fill="#00CCCC"/><polygon points="814.1,1532.3 778.1,1510.8 778.1,1553.8" fill="#00CCCC"/><polygon points="848.8,1532.3 812.8,1510.8 812.8,1553.8" fill="#00CCCC"/><polygon points="883.5,1517.4 847.5,1495.9 847.5,1538.9" fill="#00CCCC"/><polygon points="918.2,1495.1 882.2,1473.6 882.2,1516.6" fill="#00CCCC"/><polygon points="952.9,1472.8 916.9,1451.3 916.9,1494.3" fill="#00CCCC"/><polygon points="987.6,1450.5 951.6,1429.0 951.6,1472.0" fill="#00CCCC"/><polygon points="1022.3,1428.1 986.3,1406.6 986.3,1449.6" fill="#00CCCC"/><polygon points="1057.0,1389.5 1021.0,1368.0 1021.0,1411.0" fill="#00CCCC"/><polygon points="1091.7,1291.2 1055.7,1269.7 1055.7,1312.7" fill="#00CCCC"/><polygon points="1126.4,1218.3 1090.4,1196.8 1090.4,1239.8" fill="#00CCCC"/><polygon points="1161.1,1167.7 1125.1,1146.2 1125.1,1189.2" fill="#00CCCC"/><polygon points="1195.9,1102.3 1159.9,1080.8 1159.9,1123.8" fill="#00CCCC"/><polygon points="1230.6,1033.8 1194.6,1012.3 1194.6,1055.3" fill="#00CCCC"/><polygon points="1265.3,960.9 1229.3,939.4 1229.3,982.4" fill="#00CCCC"/><polygon points="1300.0,847.8 1264.0,826.3 1264.0,869.3" fill="#00CCCC"/><polygon points="1334.7,719.9 1298.7,698.4 1298.7,741.4" fill="#00CCCC"/><polygon points="1369.4,602.3 1333.4,580.8 1333.4,623.8" fill="#00CCCC"/><polygon points="1404.1,490.7 1368.1,469.2 1368.1,512.2" fill="#00CCCC"/><polygon points="1438.8,408.9 1402.8,387.4 1402.8,430.4" fill="#00CCCC"/><polygon points="1473.5,319.6 1437.5,298.1 1437.5,341.1" fill="#00CCCC"/><polygon points="1508.2,200.5 1472.2,179.0 1472.2,222.0" fill="#00CCCC"/><polygon points="1542.9,126.1 1506.9,104.6 1506.9,147.6" fill="#00CCCC"/><polygon points="1577.7,74.1 1541.7,52.6 1541.7,95.6" fill="#00CCCC"/><polygon points="1612.4,51.7 1576.4,30.2 1576.4,73.2" fill="#00CCCC"/><polygon points="1647.1,47.3 1611.1,25.8 1611.1,68.8" fill="#00CCCC"/><polygon points="1681.8,47.3 1645.8,25.8 1645.8,68.8" fill="#00CCCC"/><polygon points="1716.5,47.3 1680.5,25.8 1680.5,68.8" fill="#00CCCC"/><polygon points="1751.2,47.3 1715.2,25.8 1715.2,68.8" fill="#00CCCC"/><polygon points="1785.9,47.3 1749.9,25.8 1749.9,68.8" fill="#00CCCC"/><polygon points="1820.6,47.3 1784.6,25.8 1784.6,68.8" fill="#00CCCC"/><polygon points="1855.3,47.3 1819.3,25.8 1819.3,68.8" fill="#00CCCC"/><polygon points="1890.0,47.3 1854.0,25.8 1854.0,68.8" fill="#00CCCC"/><polygon points="1924.7,47.3 1888.7,25.8 1888.7,68.8" fill="#00CCCC"/><polygon points="1959.5,47.3 1923.5,25.8 1923.5,68.8" fill="#00CCCC"/><polygon points="1994.2,47.3 1958.2,25.8 1958.2,68.8" fill="#00CCCC"/><polygon points="2028.9,47.3 1992.9,25.8 1992.9,68.8" fill="#00CCCC"/><polygon points="2063.6,47.3 2027.6,25.8 2027.6,68.8" fill="#00CCCC"/><polygon points="2098.3,47.3 2062.3,25.8 2062.3,68.8" fill="#00CCCC"/><polygon points="2133.0,47.3 2097.0,25.8 2097.0,68.8" fill="#00CCCC"/></g><g><path d="M477.7 1532.3 L512.4 1531.7 L547.1 1531.1 L581.8 1530.5 L616.5 1529.9 L651.2 1529.3 L685.9 1528.7 L720.6 1528.1 L755.3 1527.5 L790.1 1526.9 L824.8 1526.3 L859.5 1511.5 L894.2 1492.1 L928.9 1468.3 L963.6 1449.0 L998.3 1426.7 L1033.0 1359.7 L1067.7 1222.8 L1102.4 1127.6 L1137.1 1056.1 L1171.9 998.1 L1206.6 947.5 L1241.3 870.1 L1276.0 773.4 L1310.7 641.0 L1345.4 517.5 L1380.1 416.3 L1414.8 327.0 L1449.5 222.9 L1484.2 133.6 L1518.9 80.0 L1553.7 48.8 L1588.4 48.8 L1623.1 48.8 L1657.8 48.8 L1692.5 48.8 L1727.2 48.8 L1761.9 48.8 L1796.6 48.8 L1831.3 48.8 L1866.0 48.8 L1900.7 48.8 L1935.5 48.8 L1970.2 48.8 L2004.9 48.8 L2039.6 48.8 L2074.3 48.8 L2109.0 48.8" stroke="#8B4F4F" stroke-width="3.2" fill="none" stroke-linejoin="round"/><polygon points="477.7,1512.3 493.3,1522.3 493.3,1542.3 477.7,1552.3 462.1,1542.3 462.1,1522.3" fill="#8B4F4F"/><polygon points="512.4,1511.7 528.0,1521.7 528.0,1541.7 512.4,1551.7 496.8,1541.7 496.8,1521.7" fill="#8B4F4F"/><polygon points="547.1,1511.1 562.7,1521.1 562.7,1541.1 547.1,1551.1 531.5,1541.1 531.5,1521.1" fill="#8B4F4F"/><polygon points="581.8,1510.5 597.4,1520.5 597.4,1540.5 581.8,1550.5 566.2,1540.5 566.2,1520.5" fill="#8B4F4F"/><polygon points="616.5,1509.9 632.1,1519.9 632.1,1539.9 616.5,1549.9 600.9,1539.9 600.9,1519.9" fill="#8B4F4F"/><polygon points="651.2,1509.3 666.8,1519.3 666.8,1539.3 651.2,1549.3 635.6,1539.3 635.6,1519.3" fill="#8B4F4F"/><polygon points="685.9,1508.7 701.5,1518.7 701.5,1538.7 685.9,1548.7 670.3,1538.7 670.3,1518.7" fill="#8B4F4F"/><polygon points="720.6,1508.1 736.2,1518.1 736.2,1538.1 720.6,1548.1 705.1,1538.1 705.1,1518.1" fill="#8B4F4F"/><polygon points="755.3,1507.5 770.9,1517.5 770.9,1537.5 755.3,1547.5 739.8,1537.5 739.8,1517.5" fill="#8B4F4F"/><polygon points="790.1,1506.9 805.6,1516.9 805.6,1536.9 790.1,1546.9 774.5,1536.9 774.5,1516.9" fill="#8B4F4F"/><polygon points="824.8,1506.3 840.4,1516.3 840.4,1536.3 824.8,1546.3 809.2,1536.3 809.2,1516.3" fill="#8B4F4F"/><polygon points="859.5,1491.5 875.1,1501.5 875.1,1521.5 859.5,1531.5 843.9,1521.5 843.9,1501.5" fill="#8B4F4F"/><polygon points="894.2,1472.1 909.8,1482.1 909.8,1502.1 894.2,1512.1 878.6,1502.1 878.6,1482.1" fill="#8B4F4F"/><polygon points="928.9,1448.3 944.5,1458.3 944.5,1478.3 928.9,1488.3 913.3,1478.3 913.3,1458.3" fill="#8B4F4F"/><polygon points="963.6,1429.0 979.2,1439.0 979.2,1459.0 963.6,1469.0 948.0,1459.0 948.0,1439.0" fill="#8B4F4F"/><polygon points="998.3,1406.7 1013.9,1416.7 1013.9,1436.7 998.3,1446.7 982.7,1436.7 982.7,1416.7" fill="#8B4F4F"/><polygon points="1033.0,1339.7 1048.6,1349.7 1048.6,1369.7 1033.0,1379.7 1017.4,1369.7 1017.4,1349.7" fill="#8B4F4F"/><polygon points="1067.7,1202.8 1083.3,1212.8 1083.3,1232.8 1067.7,1242.8 1052.1,1232.8 1052.1,1212.8" fill="#8B4F4F"/><polygon points="1102.4,1107.6 1118.0,1117.6 1118.0,1137.6 1102.4,1147.6 1086.9,1137.6 1086.9,1117.6" fill="#8B4F4F"/><polygon points="1137.1,1036.1 1152.7,1046.1 1152.7,1066.1 1137.1,1076.1 1121.6,1066.1 1121.6,1046.1" fill="#8B4F4F"/><polygon points="1171.9,978.1 1187.4,988.1 1187.4,1008.1 1171.9,1018.1 1156.3,1008.1 1156.3,988.1" fill="#8B4F4F"/><polygon points="1206.6,927.5 1222.2,937.5 1222.2,957.5 1206.6,967.5 1191.0,957.5 1191.0,937.5" fill="#8B4F4F"/><polygon points="1241.3,850.1 1256.9,860.1 1256.9,880.1 1241.3,890.1 1225.7,880.1 1225.7,860.1" fill="#8B4F4F"/><polygon points="1276.0,753.4 1291.6,763.4 1291.6,783.4 1276.0,793.4 1260.4,783.4 1260.4,763.4" fill="#8B4F4F"/><polygon points="1310.7,621.0 1326.3,631.0 1326.3,651.0 1310.7,661.0 1295.1,651.0 1295.1,631.0" fill="#8B4F4F"/><polygon points="1345.4,497.5 1361.0,507.5 1361.0,527.5 1345.4,537.5 1329.8,527.5 1329.8,507.5" fill="#8B4F4F"/><polygon points="1380.1,396.3 1395.7,406.3 1395.7,426.3 1380.1,436.3 1364.5,426.3 1364.5,406.3" fill="#8B4F4F"/><polygon points="1414.8,307.0 1430.4,317.0 1430.4,337.0 1414.8,347.0 1399.2,337.0 1399.2,317.0" fill="#8B4F4F"/><polygon points="1449.5,202.9 1465.1,212.9 1465.1,232.9 1449.5,242.9 1433.9,232.9 1433.9,212.9" fill="#8B4F4F"/><polygon points="1484.2,113.6 1499.8,123.6 1499.8,143.6 1484.2,153.6 1468.6,143.6 1468.6,123.6" fill="#8B4F4F"/><polygon points="1518.9,60.0 1534.5,70.0 1534.5,90.0 1518.9,100.0 1503.4,90.0 1503.4,70.0" fill="#8B4F4F"/><polygon points="1553.7,28.8 1569.2,38.8 1569.2,58.8 1553.7,68.8 1538.1,58.8 1538.1,38.8" fill="#8B4F4F"/><polygon points="1588.4,28.8 1604.0,38.8 1604.0,58.8 1588.4,68.8 1572.8,58.8 1572.8,38.8" fill="#8B4F4F"/><polygon points="1623.1,28.8 1638.7,38.8 1638.7,58.8 1623.1,68.8 1607.5,58.8 1607.5,38.8" fill="#8B4F4F"/><polygon points="1657.8,28.8 1673.4,38.8 1673.4,58.8 1657.8,68.8 1642.2,58.8 1642.2,38.8" fill="#8B4F4F"/><polygon points="1692.5,28.8 1708.1,38.8 1708.1,58.8 1692.5,68.8 1676.9,58.8 1676.9,38.8" fill="#8B4F4F"/><polygon points="1727.2,28.8 1742.8,38.8 1742.8,58.8 1727.2,68.8 1711.6,58.8 1711.6,38.8" fill="#8B4F4F"/><polygon points="1761.9,28.8 1777.5,38.8 1777.5,58.8 1761.9,68.8 1746.3,58.8 1746.3,38.8" fill="#8B4F4F"/><polygon points="1796.6,28.8 1812.2,38.8 1812.2,58.8 1796.6,68.8 1781.0,58.8 1781.0,38.8" fill="#8B4F4F"/><polygon points="1831.3,28.8 1846.9,38.8 1846.9,58.8 1831.3,68.8 1815.7,58.8 1815.7,38.8" fill="#8B4F4F"/><polygon points="1866.0,28.8 1881.6,38.8 1881.6,58.8 1866.0,68.8 1850.4,58.8 1850.4,38.8" fill="#8B4F4F"/><polygon points="1900.7,28.8 1916.3,38.8 1916.3,58.8 1900.7,68.8 1885.2,58.8 1885.2,38.8" fill="#8B4F4F"/><polygon points="1935.5,28.8 1951.0,38.8 1951.0,58.8 1935.5,68.8 1919.9,58.8 1919.9,38.8" fill="#8B4F4F"/><polygon points="1970.2,28.8 1985.8,38.8 1985.8,58.8 1970.2,68.8 1954.6,58.8 1954.6,38.8" fill="#8B4F4F"/><polygon points="2004.9,28.8 2020.5,38.8 2020.5,58.8 2004.9,68.8 1989.3,58.8 1989.3,38.8" fill="#8B4F4F"/><polygon points="2039.6,28.8 2055.2,38.8 2055.2,58.8 2039.6,68.8 2024.0,58.8 2024.0,38.8" fill="#8B4F4F"/><polygon points="2074.3,28.8 2089.9,38.8 2089.9,58.8 2074.3,68.8 2058.7,58.8 2058.7,38.8" fill="#8B4F4F"/><polygon points="2109.0,28.8 2124.6,38.8 2124.6,58.8 2109.0,68.8 2093.4,58.8 2093.4,38.8" fill="#8B4F4F"/></g><g><path d="M477.7 1532.3 L512.4 1531.9 L547.1 1531.4 L581.8 1531.0 L616.5 1530.5 L651.2 1530.1 L685.9 1529.6 L720.6 1529.2 L755.3 1528.7 L790.1 1528.3 L824.8 1527.8 L859.5 1517.4 L894.2 1498.1 L928.9 1475.8 L963.6 1460.9 L998.3 1435.6 L1033.0 1370.1 L1067.7 1230.2 L1102.4 1138.0 L1137.1 1069.5 L1171.9 1014.5 L1206.6 959.4 L1241.3 892.5 L1276.0 812.1 L1310.7 684.1 L1345.4 551.7 L1380.1 440.1 L1414.8 352.3 L1449.5 236.3 L1484.2 138.0 L1518.9 65.1 L1553.7 47.3 L1588.4 47.3 L1623.1 47.3 L1657.8 47.3 L1692.5 47.3 L1727.2 47.3 L1761.9 47.3 L1796.6 47.3 L1831.3 47.3 L1866.0 47.3 L1900.7 47.3 L1935.5 47.3 L1970.2 47.3 L2004.9 47.3 L2039.6 47.3 L2074.3 47.3 L2109.0 47.3" stroke="#8F8F00" stroke-width="3.2" fill="none" stroke-linejoin="round"/><polygon points="477.7,1512.3 483.6,1526.2 498.6,1527.5 487.2,1537.4 490.6,1552.1 477.7,1544.3 464.7,1552.1 468.2,1537.4 456.8,1527.5 471.8,1526.2" fill="#8F8F00"/><polygon points="512.4,1511.9 518.3,1525.8 533.3,1527.1 521.9,1536.9 525.3,1551.7 512.4,1543.9 499.5,1551.7 502.9,1536.9 491.5,1527.1 506.5,1525.8" fill="#8F8F00"/><polygon points="547.1,1511.4 553.0,1525.3 568.0,1526.6 556.6,1536.5 560.0,1551.2 547.1,1543.4 534.2,1551.2 537.6,1536.5 526.2,1526.6 541.2,1525.3" fill="#8F8F00"/><polygon points="581.8,1511.0 587.7,1524.9 602.7,1526.2 591.3,1536.1 594.7,1550.8 581.8,1543.0 568.9,1550.8 572.3,1536.1 560.9,1526.2 575.9,1524.9" fill="#8F8F00"/><polygon points="616.5,1510.5 622.4,1524.4 637.4,1525.7 626.0,1535.6 629.4,1550.3 616.5,1542.5 603.6,1550.3 607.0,1535.6 595.6,1525.7 610.6,1524.4" fill="#8F8F00"/><polygon points="651.2,1510.1 657.1,1524.0 672.1,1525.3 660.7,1535.2 664.2,1549.9 651.2,1542.1 638.3,1549.9 641.7,1535.2 630.3,1525.3 645.3,1524.0" fill="#8F8F00"/><polygon points="685.9,1509.6 691.8,1523.5 706.9,1524.8 695.4,1534.7 698.9,1549.4 685.9,1541.6 673.0,1549.4 676.4,1534.7 665.0,1524.8 680.1,1523.5" fill="#8F8F00"/><polygon points="720.6,1509.2 726.5,1523.1 741.6,1524.4 730.2,1534.3 733.6,1549.0 720.6,1541.2 707.7,1549.0 711.1,1534.3 699.7,1524.4 714.8,1523.1" fill="#8F8F00"/><polygon points="755.3,1508.7 761.2,1522.6 776.3,1523.9 764.9,1533.8 768.3,1548.5 755.3,1540.7 742.4,1548.5 745.8,1533.8 734.4,1523.9 749.5,1522.6" fill="#8F8F00"/><polygon points="790.1,1508.3 795.9,1522.2 811.0,1523.5 799.6,1533.4 803.0,1548.1 790.1,1540.3 777.1,1548.1 780.5,1533.4 769.1,1523.5 784.2,1522.2" fill="#8F8F00"/><polygon points="824.8,1507.8 830.6,1521.7 845.7,1523.0 834.3,1532.9 837.7,1547.6 824.8,1539.8 811.8,1547.6 815.3,1532.9 803.8,1523.0 818.9,1521.7" fill="#8F8F00"/><polygon points="859.5,1497.4 865.4,1511.3 880.4,1512.6 869.0,1522.5 872.4,1537.2 859.5,1529.4 846.5,1537.2 850.0,1522.5 838.6,1512.6 853.6,1511.3" fill="#8F8F00"/><polygon points="894.2,1478.1 900.1,1492.0 915.1,1493.3 903.7,1503.2 907.1,1517.9 894.2,1510.1 881.3,1517.9 884.7,1503.2 873.3,1493.3 888.3,1492.0" fill="#8F8F00"/><polygon points="928.9,1455.8 934.8,1469.7 949.8,1471.0 938.4,1480.8 941.8,1495.6 928.9,1487.8 916.0,1495.6 919.4,1480.8 908.0,1471.0 923.0,1469.7" fill="#8F8F00"/><polygon points="963.6,1440.9 969.5,1454.8 984.5,1456.1 973.1,1466.0 976.5,1480.7 963.6,1472.9 950.7,1480.7 954.1,1466.0 942.7,1456.1 957.7,1454.8" fill="#8F8F00"/><polygon points="998.3,1415.6 1004.2,1429.5 1019.2,1430.8 1007.8,1440.7 1011.2,1455.4 998.3,1447.6 985.4,1455.4 988.8,1440.7 977.4,1430.8 992.4,1429.5" fill="#8F8F00"/><polygon points="1033.0,1350.1 1038.9,1364.0 1053.9,1365.3 1042.5,1375.2 1046.0,1389.9 1033.0,1382.1 1020.1,1389.9 1023.5,1375.2 1012.1,1365.3 1027.1,1364.0" fill="#8F8F00"/><polygon points="1067.7,1210.2 1073.6,1224.1 1088.7,1225.4 1077.2,1235.3 1080.7,1250.0 1067.7,1242.2 1054.8,1250.0 1058.2,1235.3 1046.8,1225.4 1061.9,1224.1" fill="#8F8F00"/><polygon points="1102.4,1118.0 1108.3,1131.9 1123.4,1133.2 1111.9,1143.1 1115.4,1157.8 1102.4,1150.0 1089.5,1157.8 1092.9,1143.1 1081.5,1133.2 1096.6,1131.9" fill="#8F8F00"/><polygon points="1137.1,1049.5 1143.0,1063.4 1158.1,1064.7 1146.7,1074.6 1150.1,1089.3 1137.1,1081.5 1124.2,1089.3 1127.6,1074.6 1116.2,1064.7 1131.3,1063.4" fill="#8F8F00"/><polygon points="1171.9,994.5 1177.7,1008.4 1192.8,1009.7 1181.4,1019.6 1184.8,1034.3 1171.9,1026.5 1158.9,1034.3 1162.3,1019.6 1150.9,1009.7 1166.0,1008.4" fill="#8F8F00"/><polygon points="1206.6,939.4 1212.4,953.3 1227.5,954.6 1216.1,964.5 1219.5,979.2 1206.6,971.4 1193.6,979.2 1197.1,964.5 1185.6,954.6 1200.7,953.3" fill="#8F8F00"/><polygon points="1241.3,872.5 1247.2,886.4 1262.2,887.7 1250.8,897.6 1254.2,912.3 1241.3,904.5 1228.3,912.3 1231.8,897.6 1220.4,887.7 1235.4,886.4" fill="#8F8F00"/><polygon points="1276.0,792.1 1281.9,806.0 1296.9,807.3 1285.5,817.2 1288.9,831.9 1276.0,824.1 1263.1,831.9 1266.5,817.2 1255.1,807.3 1270.1,806.0" fill="#8F8F00"/><polygon points="1310.7,664.1 1316.6,678.0 1331.6,679.3 1320.2,689.2 1323.6,703.9 1310.7,696.1 1297.8,703.9 1301.2,689.2 1289.8,679.3 1304.8,678.0" fill="#8F8F00"/><polygon points="1345.4,531.7 1351.3,545.6 1366.3,546.9 1354.9,556.8 1358.3,571.5 1345.4,563.7 1332.5,571.5 1335.9,556.8 1324.5,546.9 1339.5,545.6" fill="#8F8F00"/><polygon points="1380.1,420.1 1386.0,434.0 1401.0,435.3 1389.6,445.2 1393.0,459.9 1380.1,452.1 1367.2,459.9 1370.6,445.2 1359.2,435.3 1374.2,434.0" fill="#8F8F00"/><polygon points="1414.8,332.3 1420.7,346.2 1435.7,347.5 1424.3,357.4 1427.8,372.1 1414.8,364.3 1401.9,372.1 1405.3,357.4 1393.9,347.5 1408.9,346.2" fill="#8F8F00"/><polygon points="1449.5,216.3 1455.4,230.2 1470.5,231.5 1459.0,241.3 1462.5,256.1 1449.5,248.3 1436.6,256.1 1440.0,241.3 1428.6,231.5 1443.7,230.2" fill="#8F8F00"/><polygon points="1484.2,118.0 1490.1,132.0 1505.2,133.2 1493.7,143.1 1497.2,157.8 1484.2,150.0 1471.3,157.8 1474.7,143.1 1463.3,133.2 1478.4,132.0" fill="#8F8F00"/><polygon points="1518.9,45.1 1524.8,59.0 1539.9,60.3 1528.5,70.2 1531.9,84.9 1518.9,77.1 1506.0,84.9 1509.4,70.2 1498.0,60.3 1513.1,59.0" fill="#8F8F00"/><polygon points="1553.7,27.3 1559.5,41.2 1574.6,42.5 1563.2,52.4 1566.6,67.1 1553.7,59.3 1540.7,67.1 1544.1,52.4 1532.7,42.5 1547.8,41.2" fill="#8F8F00"/><polygon points="1588.4,27.3 1594.2,41.2 1609.3,42.5 1597.9,52.4 1601.3,67.1 1588.4,59.3 1575.4,67.1 1578.9,52.4 1567.4,42.5 1582.5,41.2" fill="#8F8F00"/><polygon points="1623.1,27.3 1629.0,41.2 1644.0,42.5 1632.6,52.4 1636.0,67.1 1623.1,59.3 1610.1,67.1 1613.6,52.4 1602.2,42.5 1617.2,41.2" fill="#8F8F00"/><polygon points="1657.8,27.3 1663.7,41.2 1678.7,42.5 1667.3,52.4 1670.7,67.1 1657.8,59.3 1644.9,67.1 1648.3,52.4 1636.9,42.5 1651.9,41.2" fill="#8F8F00"/><polygon points="1692.5,27.3 1698.4,41.2 1713.4,42.5 1702.0,52.4 1705.4,67.1 1692.5,59.3 1679.6,67.1 1683.0,52.4 1671.6,42.5 1686.6,41.2" fill="#8F8F00"/><polygon points="1727.2,27.3 1733.1,41.2 1748.1,42.5 1736.7,52.4 1740.1,67.1 1727.2,59.3 1714.3,67.1 1717.7,52.4 1706.3,42.5 1721.3,41.2" fill="#8F8F00"/><polygon points="1761.9,27.3 1767.8,41.2 1782.8,42.5 1771.4,52.4 1774.8,67.1 1761.9,59.3 1749.0,67.1 1752.4,52.4 1741.0,42.5 1756.0,41.2" fill="#8F8F00"/><polygon points="1796.6,27.3 1802.5,41.2 1817.5,42.5 1806.1,52.4 1809.6,67.1 1796.6,59.3 1783.7,67.1 1787.1,52.4 1775.7,42.5 1790.7,41.2" fill="#8F8F00"/><polygon points="1831.3,27.3 1837.2,41.2 1852.3,42.5 1840.8,52.4 1844.3,67.1 1831.3,59.3 1818.4,67.1 1821.8,52.4 1810.4,42.5 1825.5,41.2" fill="#8F8F00"/><polygon points="1866.0,27.3 1871.9,41.2 1887.0,42.5 1875.5,52.4 1879.0,67.1 1866.0,59.3 1853.1,67.1 1856.5,52.4 1845.1,42.5 1860.2,41.2" fill="#8F8F00"/><polygon points="1900.7,27.3 1906.6,41.2 1921.7,42.5 1910.3,52.4 1913.7,67.1 1900.7,59.3 1887.8,67.1 1891.2,52.4 1879.8,42.5 1894.9,41.2" fill="#8F8F00"/><polygon points="1935.5,27.3 1941.3,41.2 1956.4,42.5 1945.0,52.4 1948.4,67.1 1935.5,59.3 1922.5,67.1 1925.9,52.4 1914.5,42.5 1929.6,41.2" fill="#8F8F00"/><polygon points="1970.2,27.3 1976.0,41.2 1991.1,42.5 1979.7,52.4 1983.1,67.1 1970.2,59.3 1957.2,67.1 1960.7,52.4 1949.2,42.5 1964.3,41.2" fill="#8F8F00"/><polygon points="2004.9,27.3 2010.8,41.2 2025.8,42.5 2014.4,52.4 2017.8,67.1 2004.9,59.3 1991.9,67.1 1995.4,52.4 1983.9,42.5 1999.0,41.2" fill="#8F8F00"/><polygon points="2039.6,27.3 2045.5,41.2 2060.5,42.5 2049.1,52.4 2052.5,67.1 2039.6,59.3 2026.7,67.1 2030.1,52.4 2018.7,42.5 2033.7,41.2" fill="#8F8F00"/><polygon points="2074.3,27.3 2080.2,41.2 2095.2,42.5 2083.8,52.4 2087.2,67.1 2074.3,59.3 2061.4,67.1 2064.8,52.4 2053.4,42.5 2068.4,41.2" fill="#8F8F00"/><polygon points="2109.0,27.3 2114.9,41.2 2129.9,42.5 2118.5,52.4 2121.9,67.1 2109.0,59.3 2096.1,67.1 2099.5,52.4 2088.1,42.5 2103.1,41.2" fill="#8F8F00"/></g><g><path d="M477.7 1532.3 L512.4 1531.2 L547.1 1530.1 L581.8 1529.1 L616.5 1528.0 L651.2 1526.9 L685.9 1525.8 L720.6 1524.7 L755.3 1523.6 L790.1 1522.6 L824.8 1521.5 L859.5 1520.4 L894.2 1502.5 L928.9 1493.6 L963.6 1478.7 L998.3 1460.9 L1033.0 1410.3 L1067.7 1315.1 L1102.4 1245.1 L1137.1 1170.7 L1171.9 1065.1 L1206.6 969.8 L1241.3 873.1 L1276.0 786.8 L1310.7 684.1 L1345.4 581.5 L1380.1 492.2 L1414.8 411.8 L1449.5 325.5 L1484.2 233.3 L1518.9 148.5 L1553.7 62.2 L1588.4 48.8 L1623.1 48.8 L1657.8 48.8 L1692.5 48.8 L1727.2 48.8 L1761.9 48.8 L1796.6 48.8 L1831.3 48.8 L1866.0 48.8 L1900.7 48.8 L1935.5 48.8 L1970.2 48.8 L2004.9 48.8 L2039.6 48.8 L2074.3 48.8 L2109.0 48.8" stroke="#FF6600" stroke-width="3.2" fill="none" stroke-linejoin="round"/><polygon points="477.7,1512.8 498.1,1527.7 490.3,1551.7 465.0,1551.7 457.2,1527.7" fill="#FF6600"/><polygon points="512.4,1511.7 532.8,1526.6 525.0,1550.6 499.7,1550.6 491.9,1526.6" fill="#FF6600"/><polygon points="547.1,1510.6 567.5,1525.5 559.7,1549.5 534.5,1549.5 526.6,1525.5" fill="#FF6600"/><polygon points="581.8,1509.6 602.3,1524.4 594.4,1548.4 569.2,1548.4 561.4,1524.4" fill="#FF6600"/><polygon points="616.5,1508.5 637.0,1523.3 629.2,1547.4 603.9,1547.4 596.1,1523.3" fill="#FF6600"/><polygon points="651.2,1507.4 671.7,1522.2 663.9,1546.3 638.6,1546.3 630.8,1522.2" fill="#FF6600"/><polygon points="685.9,1506.3 706.4,1521.2 698.6,1545.2 673.3,1545.2 665.5,1521.2" fill="#FF6600"/><polygon points="720.6,1505.2 741.1,1520.1 733.3,1544.1 708.0,1544.1 700.2,1520.1" fill="#FF6600"/><polygon points="755.3,1504.1 775.8,1519.0 768.0,1543.0 742.7,1543.0 734.9,1519.0" fill="#FF6600"/><polygon points="790.1,1503.1 810.5,1517.9 802.7,1542.0 777.4,1542.0 769.6,1517.9" fill="#FF6600"/><polygon points="824.8,1502.0 845.2,1516.8 837.4,1540.9 812.1,1540.9 804.3,1516.8" fill="#FF6600"/><polygon points="859.5,1500.9 879.9,1515.8 872.1,1539.8 846.8,1539.8 839.0,1515.8" fill="#FF6600"/><polygon points="894.2,1483.0 914.6,1497.9 906.8,1521.9 881.5,1521.9 873.7,1497.9" fill="#FF6600"/><polygon points="928.9,1474.1 949.3,1489.0 941.5,1513.0 916.3,1513.0 908.4,1489.0" fill="#FF6600"/><polygon points="963.6,1459.2 984.1,1474.1 976.2,1498.1 951.0,1498.1 943.2,1474.1" fill="#FF6600"/><polygon points="998.3,1441.4 1018.8,1456.2 1010.9,1480.3 985.7,1480.3 977.9,1456.2" fill="#FF6600"/><polygon points="1033.0,1390.8 1053.5,1405.6 1045.7,1429.7 1020.4,1429.7 1012.6,1405.6" fill="#FF6600"/><polygon points="1067.7,1295.6 1088.2,1310.4 1080.4,1334.4 1055.1,1334.4 1047.3,1310.4" fill="#FF6600"/><polygon points="1102.4,1225.6 1122.9,1240.5 1115.1,1264.5 1089.8,1264.5 1082.0,1240.5" fill="#FF6600"/><polygon points="1137.1,1151.2 1157.6,1166.1 1149.8,1190.1 1124.5,1190.1 1116.7,1166.1" fill="#FF6600"/><polygon points="1171.9,1045.6 1192.3,1060.4 1184.5,1084.5 1159.2,1084.5 1151.4,1060.4" fill="#FF6600"/><polygon points="1206.6,950.3 1227.0,965.2 1219.2,989.2 1193.9,989.2 1186.1,965.2" fill="#FF6600"/><polygon points="1241.3,853.6 1261.7,868.5 1253.9,892.5 1228.6,892.5 1220.8,868.5" fill="#FF6600"/><polygon points="1276.0,767.3 1296.4,782.2 1288.6,806.2 1263.3,806.2 1255.5,782.2" fill="#FF6600"/><polygon points="1310.7,664.6 1331.1,679.5 1323.3,703.5 1298.1,703.5 1290.2,679.5" fill="#FF6600"/><polygon points="1345.4,562.0 1365.8,576.8 1358.0,600.9 1332.8,600.9 1325.0,576.8" fill="#FF6600"/><polygon points="1380.1,472.7 1400.6,487.5 1392.7,511.6 1367.5,511.6 1359.7,487.5" fill="#FF6600"/><polygon points="1414.8,392.3 1435.3,407.2 1427.5,431.2 1402.2,431.2 1394.4,407.2" fill="#FF6600"/><polygon points="1449.5,306.0 1470.0,320.9 1462.2,344.9 1436.9,344.9 1429.1,320.9" fill="#FF6600"/><polygon points="1484.2,213.8 1504.7,228.6 1496.9,252.7 1471.6,252.7 1463.8,228.6" fill="#FF6600"/><polygon points="1518.9,129.0 1539.4,143.8 1531.6,167.9 1506.3,167.9 1498.5,143.8" fill="#FF6600"/><polygon points="1553.7,42.7 1574.1,57.5 1566.3,81.5 1541.0,81.5 1533.2,57.5" fill="#FF6600"/><polygon points="1588.4,29.3 1608.8,44.1 1601.0,68.2 1575.7,68.2 1567.9,44.1" fill="#FF6600"/><polygon points="1623.1,29.3 1643.5,44.1 1635.7,68.2 1610.4,68.2 1602.6,44.1" fill="#FF6600"/><polygon points="1657.8,29.3 1678.2,44.1 1670.4,68.2 1645.1,68.2 1637.3,44.1" fill="#FF6600"/><polygon points="1692.5,29.3 1712.9,44.1 1705.1,68.2 1679.9,68.2 1672.0,44.1" fill="#FF6600"/><polygon points="1727.2,29.3 1747.6,44.1 1739.8,68.2 1714.6,68.2 1706.8,44.1" fill="#FF6600"/><polygon points="1761.9,29.3 1782.4,44.1 1774.5,68.2 1749.3,68.2 1741.5,44.1" fill="#FF6600"/><polygon points="1796.6,29.3 1817.1,44.1 1809.3,68.2 1784.0,68.2 1776.2,44.1" fill="#FF6600"/><polygon points="1831.3,29.3 1851.8,44.1 1844.0,68.2 1818.7,68.2 1810.9,44.1" fill="#FF6600"/><polygon points="1866.0,29.3 1886.5,44.1 1878.7,68.2 1853.4,68.2 1845.6,44.1" fill="#FF6600"/><polygon points="1900.7,29.3 1921.2,44.1 1913.4,68.2 1888.1,68.2 1880.3,44.1" fill="#FF6600"/><polygon points="1935.5,29.3 1955.9,44.1 1948.1,68.2 1922.8,68.2 1915.0,44.1" fill="#FF6600"/><polygon points="1970.2,29.3 1990.6,44.1 1982.8,68.2 1957.5,68.2 1949.7,44.1" fill="#FF6600"/><polygon points="2004.9,29.3 2025.3,44.1 2017.5,68.2 1992.2,68.2 1984.4,44.1" fill="#FF6600"/><polygon points="2039.6,29.3 2060.0,44.1 2052.2,68.2 2026.9,68.2 2019.1,44.1" fill="#FF6600"/><polygon points="2074.3,29.3 2094.7,44.1 2086.9,68.2 2061.7,68.2 2053.8,44.1" fill="#FF6600"/><polygon points="2109.0,29.3 2129.4,44.1 2121.6,68.2 2096.4,68.2 2088.6,44.1" fill="#FF6600"/></g><g><path d="M477.7 1532.3 L512.4 1531.9 L547.1 1531.4 L581.8 1531.0 L616.5 1530.5 L651.2 1530.1 L685.9 1529.6 L720.6 1529.2 L755.3 1528.7 L790.1 1528.3 L824.8 1527.8 L859.5 1524.9 L894.2 1520.4 L928.9 1513.0 L963.6 1502.5 L998.3 1487.7 L1033.0 1459.4 L1067.7 1398.4 L1102.4 1338.9 L1137.1 1264.5 L1171.9 1160.3 L1206.6 1039.8 L1241.3 905.9 L1276.0 757.1 L1310.7 609.7 L1345.4 489.2 L1380.1 395.5 L1414.8 325.5 L1449.5 261.5 L1484.2 197.6 L1518.9 142.5 L1553.7 86.0 L1588.4 62.2 L1623.1 51.7 L1657.8 51.6 L1692.5 51.5 L1727.2 51.4 L1761.9 51.3 L1796.6 51.2 L1831.3 51.1 L1866.0 51.0 L1900.7 50.9 L1935.5 50.8 L1970.2 50.7 L2004.9 50.6 L2039.6 50.5 L2074.3 50.4 L2109.0 50.3" stroke="#4499D0" stroke-width="3.2" fill="none" stroke-linejoin="round"/><ellipse cx="477.7" cy="1532.3" rx="18" ry="17.8" fill="url(#gsp)"/><ellipse cx="512.4" cy="1531.9" rx="18" ry="17.8" fill="url(#gsp)"/><ellipse cx="547.1" cy="1531.4" rx="18" ry="17.8" fill="url(#gsp)"/><ellipse cx="581.8" cy="1531.0" rx="18" ry="17.8" fill="url(#gsp)"/><ellipse cx="616.5" cy="1530.5" rx="18" ry="17.8" fill="url(#gsp)"/><ellipse cx="651.2" cy="1530.1" rx="18" ry="17.8" fill="url(#gsp)"/><ellipse cx="685.9" cy="1529.6" rx="18" ry="17.8" fill="url(#gsp)"/><ellipse cx="720.6" cy="1529.2" rx="18" ry="17.8" fill="url(#gsp)"/><ellipse cx="755.3" cy="1528.7" rx="18" ry="17.8" fill="url(#gsp)"/><ellipse cx="790.1" cy="1528.3" rx="18" ry="17.8" fill="url(#gsp)"/><ellipse cx="824.8" cy="1527.8" rx="18" ry="17.8" fill="url(#gsp)"/><ellipse cx="859.5" cy="1524.9" rx="18" ry="17.8" fill="url(#gsp)"/><ellipse cx="894.2" cy="1520.4" rx="18" ry="17.8" fill="url(#gsp)"/><ellipse cx="928.9" cy="1513.0" rx="18" ry="17.8" fill="url(#gsp)"/><ellipse cx="963.6" cy="1502.5" rx="18" ry="17.8" fill="url(#gsp)"/><ellipse cx="998.3" cy="1487.7" rx="18" ry="17.8" fill="url(#gsp)"/><ellipse cx="1033.0" cy="1459.4" rx="18" ry="17.8" fill="url(#gsp)"/><ellipse cx="1067.7" cy="1398.4" rx="18" ry="17.8" fill="url(#gsp)"/><ellipse cx="1102.4" cy="1338.9" rx="18" ry="17.8" fill="url(#gsp)"/><ellipse cx="1137.1" cy="1264.5" rx="18" ry="17.8" fill="url(#gsp)"/><ellipse cx="1171.9" cy="1160.3" rx="18" ry="17.8" fill="url(#gsp)"/><ellipse cx="1206.6" cy="1039.8" rx="18" ry="17.8" fill="url(#gsp)"/><ellipse cx="1241.3" cy="905.9" rx="18" ry="17.8" fill="url(#gsp)"/><ellipse cx="1276.0" cy="757.1" rx="18" ry="17.8" fill="url(#gsp)"/><ellipse cx="1310.7" cy="609.7" rx="18" ry="17.8" fill="url(#gsp)"/><ellipse cx="1345.4" cy="489.2" rx="18" ry="17.8" fill="url(#gsp)"/><ellipse cx="1380.1" cy="395.5" rx="18" ry="17.8" fill="url(#gsp)"/><ellipse cx="1414.8" cy="325.5" rx="18" ry="17.8" fill="url(#gsp)"/><ellipse cx="1449.5" cy="261.5" rx="18" ry="17.8" fill="url(#gsp)"/><ellipse cx="1484.2" cy="197.6" rx="18" ry="17.8" fill="url(#gsp)"/><ellipse cx="1518.9" cy="142.5" rx="18" ry="17.8" fill="url(#gsp)"/><ellipse cx="1553.7" cy="86.0" rx="18" ry="17.8" fill="url(#gsp)"/><ellipse cx="1588.4" cy="62.2" rx="18" ry="17.8" fill="url(#gsp)"/><ellipse cx="1623.1" cy="51.7" rx="18" ry="17.8" fill="url(#gsp)"/><ellipse cx="1657.8" cy="51.6" rx="18" ry="17.8" fill="url(#gsp)"/><ellipse cx="1692.5" cy="51.5" rx="18" ry="17.8" fill="url(#gsp)"/><ellipse cx="1727.2" cy="51.4" rx="18" ry="17.8" fill="url(#gsp)"/><ellipse cx="1761.9" cy="51.3" rx="18" ry="17.8" fill="url(#gsp)"/><ellipse cx="1796.6" cy="51.2" rx="18" ry="17.8" fill="url(#gsp)"/><ellipse cx="1831.3" cy="51.1" rx="18" ry="17.8" fill="url(#gsp)"/><ellipse cx="1866.0" cy="51.0" rx="18" ry="17.8" fill="url(#gsp)"/><ellipse cx="1900.7" cy="50.9" rx="18" ry="17.8" fill="url(#gsp)"/><ellipse cx="1935.5" cy="50.8" rx="18" ry="17.8" fill="url(#gsp)"/><ellipse cx="1970.2" cy="50.7" rx="18" ry="17.8" fill="url(#gsp)"/><ellipse cx="2004.9" cy="50.6" rx="18" ry="17.8" fill="url(#gsp)"/><ellipse cx="2039.6" cy="50.5" rx="18" ry="17.8" fill="url(#gsp)"/><ellipse cx="2074.3" cy="50.4" rx="18" ry="17.8" fill="url(#gsp)"/><ellipse cx="2109.0" cy="50.3" rx="18" ry="17.8" fill="url(#gsp)"/></g><g><path d="M477.7 1534.1 L512.4 1534.1 L547.1 1534.1 L581.8 1534.1 L616.5 1534.1 L651.2 1534.1 L685.9 1534.1 L720.6 1534.1 L755.3 1534.1 L790.1 1527.8 L824.8 1526.3 L859.5 1521.9 L894.2 1513.0 L928.9 1499.6 L963.6 1487.7 L998.3 1472.8 L1033.0 1420.7 L1067.7 1321.0 L1102.4 1234.7 L1137.1 1143.9 L1171.9 1030.8 L1206.6 919.2 L1241.3 801.7 L1276.0 655.9 L1310.7 521.9 L1345.4 414.8 L1380.1 341.9 L1414.8 286.8 L1449.5 236.3 L1484.2 181.2 L1518.9 132.1 L1553.7 83.0 L1588.4 57.7 L1623.1 45.8 L1657.8 45.8 L1692.5 45.8 L1727.2 45.8 L1761.9 45.8 L1796.6 45.8 L1831.3 45.8 L1866.0 45.8 L1900.7 45.8 L1935.5 45.8 L1970.2 45.8 L2004.9 45.8 L2039.6 45.8 L2074.3 45.8 L2109.0 45.8" stroke="#33BB00" stroke-width="3.2" fill="none" stroke-linejoin="round"/><path d="M461.7 1534.1H493.7M477.7 1518.1V1550.1" stroke="#33BB00" stroke-width="3.5" fill="none"/><path d="M496.4 1534.1H528.4M512.4 1518.1V1550.1" stroke="#33BB00" stroke-width="3.5" fill="none"/><path d="M531.1 1534.1H563.1M547.1 1518.1V1550.1" stroke="#33BB00" stroke-width="3.5" fill="none"/><path d="M565.8 1534.1H597.8M581.8 1518.1V1550.1" stroke="#33BB00" stroke-width="3.5" fill="none"/><path d="M600.5 1534.1H632.5M616.5 1518.1V1550.1" stroke="#33BB00" stroke-width="3.5" fill="none"/><path d="M635.2 1534.1H667.2M651.2 1518.1V1550.1" stroke="#33BB00" stroke-width="3.5" fill="none"/><path d="M669.9 1534.1H701.9M685.9 1518.1V1550.1" stroke="#33BB00" stroke-width="3.5" fill="none"/><path d="M704.6 1534.1H736.6M720.6 1518.1V1550.1" stroke="#33BB00" stroke-width="3.5" fill="none"/><path d="M739.3 1534.1H771.3M755.3 1518.1V1550.1" stroke="#33BB00" stroke-width="3.5" fill="none"/><path d="M774.1 1527.8H806.1M790.1 1511.8V1543.8" stroke="#33BB00" stroke-width="3.5" fill="none"/><path d="M808.8 1526.3H840.8M824.8 1510.3V1542.3" stroke="#33BB00" stroke-width="3.5" fill="none"/><path d="M843.5 1521.9H875.5M859.5 1505.9V1537.9" stroke="#33BB00" stroke-width="3.5" fill="none"/><path d="M878.2 1513.0H910.2M894.2 1497.0V1529.0" stroke="#33BB00" stroke-width="3.5" fill="none"/><path d="M912.9 1499.6H944.9M928.9 1483.6V1515.6" stroke="#33BB00" stroke-width="3.5" fill="none"/><path d="M947.6 1487.7H979.6M963.6 1471.7V1503.7" stroke="#33BB00" stroke-width="3.5" fill="none"/><path d="M982.3 1472.8H1014.3M998.3 1456.8V1488.8" stroke="#33BB00" stroke-width="3.5" fill="none"/><path d="M1017.0 1420.7H1049.0M1033.0 1404.7V1436.7" stroke="#33BB00" stroke-width="3.5" fill="none"/><path d="M1051.7 1321.0H1083.7M1067.7 1305.0V1337.0" stroke="#33BB00" stroke-width="3.5" fill="none"/><path d="M1086.4 1234.7H1118.4M1102.4 1218.7V1250.7" stroke="#33BB00" stroke-width="3.5" fill="none"/><path d="M1121.1 1143.9H1153.1M1137.1 1127.9V1159.9" stroke="#33BB00" stroke-width="3.5" fill="none"/><path d="M1155.9 1030.8H1187.9M1171.9 1014.8V1046.8" stroke="#33BB00" stroke-width="3.5" fill="none"/><path d="M1190.6 919.2H1222.6M1206.6 903.2V935.2" stroke="#33BB00" stroke-width="3.5" fill="none"/><path d="M1225.3 801.7H1257.3M1241.3 785.7V817.7" stroke="#33BB00" stroke-width="3.5" fill="none"/><path d="M1260.0 655.9H1292.0M1276.0 639.9V671.9" stroke="#33BB00" stroke-width="3.5" fill="none"/><path d="M1294.7 521.9H1326.7M1310.7 505.9V537.9" stroke="#33BB00" stroke-width="3.5" fill="none"/><path d="M1329.4 414.8H1361.4M1345.4 398.8V430.8" stroke="#33BB00" stroke-width="3.5" fill="none"/><path d="M1364.1 341.9H1396.1M1380.1 325.9V357.9" stroke="#33BB00" stroke-width="3.5" fill="none"/><path d="M1398.8 286.8H1430.8M1414.8 270.8V302.8" stroke="#33BB00" stroke-width="3.5" fill="none"/><path d="M1433.5 236.3H1465.5M1449.5 220.3V252.3" stroke="#33BB00" stroke-width="3.5" fill="none"/><path d="M1468.2 181.2H1500.2M1484.2 165.2V197.2" stroke="#33BB00" stroke-width="3.5" fill="none"/><path d="M1502.9 132.1H1534.9M1518.9 116.1V148.1" stroke="#33BB00" stroke-width="3.5" fill="none"/><path d="M1537.7 83.0H1569.7M1553.7 67.0V99.0" stroke="#33BB00" stroke-width="3.5" fill="none"/><path d="M1572.4 57.7H1604.4M1588.4 41.7V73.7" stroke="#33BB00" stroke-width="3.5" fill="none"/><path d="M1607.1 45.8H1639.1M1623.1 29.8V61.8" stroke="#33BB00" stroke-width="3.5" fill="none"/><path d="M1641.8 45.8H1673.8M1657.8 29.8V61.8" stroke="#33BB00" stroke-width="3.5" fill="none"/><path d="M1676.5 45.8H1708.5M1692.5 29.8V61.8" stroke="#33BB00" stroke-width="3.5" fill="none"/><path d="M1711.2 45.8H1743.2M1727.2 29.8V61.8" stroke="#33BB00" stroke-width="3.5" fill="none"/><path d="M1745.9 45.8H1777.9M1761.9 29.8V61.8" stroke="#33BB00" stroke-width="3.5" fill="none"/><path d="M1780.6 45.8H1812.6M1796.6 29.8V61.8" stroke="#33BB00" stroke-width="3.5" fill="none"/><path d="M1815.3 45.8H1847.3M1831.3 29.8V61.8" stroke="#33BB00" stroke-width="3.5" fill="none"/><path d="M1850.0 45.8H1882.0M1866.0 29.8V61.8" stroke="#33BB00" stroke-width="3.5" fill="none"/><path d="M1884.7 45.8H1916.7M1900.7 29.8V61.8" stroke="#33BB00" stroke-width="3.5" fill="none"/><path d="M1919.5 45.8H1951.5M1935.5 29.8V61.8" stroke="#33BB00" stroke-width="3.5" fill="none"/><path d="M1954.2 45.8H1986.2M1970.2 29.8V61.8" stroke="#33BB00" stroke-width="3.5" fill="none"/><path d="M1988.9 45.8H2020.9M2004.9 29.8V61.8" stroke="#33BB00" stroke-width="3.5" fill="none"/><path d="M2023.6 45.8H2055.6M2039.6 29.8V61.8" stroke="#33BB00" stroke-width="3.5" fill="none"/><path d="M2058.3 45.8H2090.3M2074.3 29.8V61.8" stroke="#33BB00" stroke-width="3.5" fill="none"/><path d="M2093.0 45.8H2125.0M2109.0 29.8V61.8" stroke="#33BB00" stroke-width="3.5" fill="none"/></g></g><rect x="345.3" y="60.4" width="825.8" height="767.9" fill="#fff" stroke="#000" stroke-width="3.4"/><rect x="350.9" y="95.1" width="115.3" height="3.4" fill="#505050"/><rect x="394.0" y="82.3" width="29" height="29" fill="#505050"/><text transform="translate(494.5,116.1) scale(1,1.15)" stroke="#fff" stroke-width="0.3" ><tspan font-family="Liberation Mono, monospace" font-size="46" x="0.7 29.7 58.7 87.7 116.7 145.7 174.7 203.7 232.7 261.7 290.7 319.7 348.7 377.7 406.7 435.7 464.7 493.7 522.7 551.7 580.7 609.7 638.7" y="0.0 0.0 0.0 0.0 0.0 0.0 0.0 0.0 0.0 0.0 0.0 0.0 0.0 0.0 0.0 -6.0 0.0 0.0 0.0 0.0 0.0 0.0 -6.0">Mineral powder (medium)</tspan></text><rect x="350.9" y="158.4" width="115.3" height="3.4" fill="#FF4040"/><ellipse cx="408.5" cy="160.1" rx="18.3" ry="17.3" fill="#FF4040"/><text transform="translate(494.5,179.4) scale(1,1.15)" stroke="#fff" stroke-width="0.3" ><tspan font-family="Liberation Mono, monospace" font-size="46" x="0.7 29.7 58.7 87.7 116.7 145.7 174.7 203.7 232.7 261.7 290.7 319.7 348.7 377.7 406.7 435.7 464.7 493.7 522.7 551.7 580.7" y="0.0 0.0 0.0 0.0 0.0 0.0 0.0 0.0 0.0 0.0 0.0 0.0 0.0 0.0 0.0 -6.0 0.0 0.0 0.0 0.0 -6.0">Mineral powder (fine)</tspan></text><rect x="350.9" y="221.8" width="115.3" height="3.4" fill="#0070E0"/><polygon points="408.5,198.8 432.0,235.8 385.0,235.8" fill="#0070E0"/><text transform="translate(494.5,242.8) scale(1,1.15)" stroke="#fff" stroke-width="0.3" ><tspan font-family="Liberation Mono, monospace" font-size="46" x="0.7 29.7 58.7 87.7 116.7 145.7 174.7 203.7 232.7 261.7 290.7 319.7 348.7 377.7 406.7 435.7 464.7 493.7 522.7 551.7 580.7 609.7 638.7" y="0.0 0.0 0.0 0.0 0.0 0.0 0.0 0.0 0.0 0.0 0.0 0.0 0.0 0.0 0.0 -6.0 0.0 0.0 0.0 0.0 0.0 0.0 -6.0">Mineral powder (coarse)</tspan></text><rect x="350.9" y="285.1" width="115.3" height="3.4" fill="#00B060"/><polygon points="408.5,312.8 432.0,273.8 385.0,273.8" fill="#00B060"/><text transform="translate(494.5,306.1) scale(1,1.15)" stroke="#fff" stroke-width="0.3" ><tspan font-family="Liberation Sans, sans-serif" font-size="49" x="0.9 29.9" y="0.0 0.0">10</tspan><tspan font-family="Liberation Mono, monospace" font-size="46" x="58.7 87.7 116.7 145.7 174.7 203.7 232.7 261.7 290.7 319.7 348.7 377.7 406.7 435.7 464.7 493.7 522.7" y="0.0 0.0 0.0 0.0 0.0 0.0 0.0 0.0 0.0 0.0 0.0 0.0 0.0 0.0 0.0 0.0 0.0">% recycled powder</tspan></text><rect x="350.9" y="348.4" width="115.3" height="3.4" fill="#C07AE0"/><polygon points="408.5,326.6 429.0,350.1 408.5,373.6 388.0,350.1" fill="#C07AE0"/><text transform="translate(494.5,369.4) scale(1,1.15)" stroke="#fff" stroke-width="0.3" ><tspan font-family="Liberation Sans, sans-serif" font-size="49" x="0.9 29.9" y="0.0 0.0">20</tspan><tspan font-family="Liberation Mono, monospace" font-size="46" x="58.7 87.7 116.7 145.7 174.7 203.7 232.7 261.7 290.7 319.7 348.7 377.7 406.7 435.7 464.7 493.7 522.7" y="0.0 0.0 0.0 0.0 0.0 0.0 0.0 0.0 0.0 0.0 0.0 0.0 0.0 0.0 0.0 0.0 0.0">% recycled powder</tspan></text><rect x="350.9" y="411.8" width="115.3" height="3.4" fill="#DE9A00"/><polygon points="385.8,413.4 419.8,391.4 419.8,435.4" fill="#DE9A00"/><text transform="translate(494.5,432.8) scale(1,1.15)" stroke="#fff" stroke-width="0.3" ><tspan font-family="Liberation Sans, sans-serif" font-size="49" x="0.9 29.9" y="0.0 0.0">30</tspan><tspan font-family="Liberation Mono, monospace" font-size="46" x="58.7 87.7 116.7 145.7 174.7 203.7 232.7 261.7 290.7 319.7 348.7 377.7 406.7 435.7 464.7 493.7 522.7" y="0.0 0.0 0.0 0.0 0.0 0.0 0.0 0.0 0.0 0.0 0.0 0.0 0.0 0.0 0.0 0.0 0.0">% recycled powder</tspan></text><rect x="350.9" y="475.1" width="115.3" height="3.4" fill="#00CCCC"/><polygon points="432.5,476.8 396.5,455.3 396.5,498.3" fill="#00CCCC"/><text transform="translate(494.5,496.1) scale(1,1.15)" stroke="#fff" stroke-width="0.3" ><tspan font-family="Liberation Sans, sans-serif" font-size="49" x="0.9 29.9" y="0.0 0.0">20</tspan><tspan font-family="Liberation Mono, monospace" font-size="46" x="58.7 87.7 116.7 145.7 174.7 203.7 232.7 261.7" y="0.0 0.0 0.0 0.0 0.0 0.0 0.0 0.0">% cement</tspan></text><rect x="350.9" y="538.4" width="115.3" height="3.4" fill="#8B4F4F"/><polygon points="408.5,520.1 424.1,530.1 424.1,550.1 408.5,560.1 392.9,550.1 392.9,530.1" fill="#8B4F4F"/><text transform="translate(494.5,559.4) scale(1,1.15)" stroke="#fff" stroke-width="0.3" ><tspan font-family="Liberation Sans, sans-serif" font-size="49" x="0.9 29.9" y="0.0 0.0">40</tspan><tspan font-family="Liberation Mono, monospace" font-size="46" x="58.7 87.7 116.7 145.7 174.7 203.7 232.7 261.7" y="0.0 0.0 0.0 0.0 0.0 0.0 0.0 0.0">% cement</tspan></text><rect x="350.9" y="601.7" width="115.3" height="3.4" fill="#8F8F00"/><polygon points="408.5,583.4 414.4,597.3 429.4,598.6 418.0,608.5 421.4,623.2 408.5,615.4 395.6,623.2 399.0,608.5 387.6,598.6 402.6,597.3" fill="#8F8F00"/><text transform="translate(494.5,622.7) scale(1,1.15)" stroke="#fff" stroke-width="0.3" ><tspan font-family="Liberation Sans, sans-serif" font-size="49" x="0.9 29.9" y="0.0 0.0">60</tspan><tspan font-family="Liberation Mono, monospace" font-size="46" x="58.7 87.7 116.7 145.7 174.7 203.7 232.7 261.7" y="0.0 0.0 0.0 0.0 0.0 0.0 0.0 0.0">% cement</tspan></text><rect x="350.9" y="665.1" width="115.3" height="3.4" fill="#FF6600"/><polygon points="408.5,647.3 428.9,662.1 421.1,686.2 395.9,686.2 388.1,662.1" fill="#FF6600"/><text transform="translate(494.5,686.1) scale(1,1.15)" stroke="#fff" stroke-width="0.3" ><tspan font-family="Liberation Sans, sans-serif" font-size="49" x="0.9 29.9" y="0.0 0.0">30</tspan><tspan font-family="Liberation Mono, monospace" font-size="46" x="58.7 87.7 116.7 145.7 174.7 203.7 232.7 261.7 290.7 319.7 348.7 377.7 406.7" y="0.0 0.0 0.0 0.0 0.0 0.0 0.0 0.0 0.0 0.0 0.0 0.0 0.0">% slaked lime</tspan></text><rect x="350.9" y="728.4" width="115.3" height="3.4" fill="#4499D0"/><ellipse cx="408.5" cy="730.1" rx="18" ry="17.8" fill="url(#gsp)"/><text transform="translate(494.5,749.4) scale(1,1.15)" stroke="#fff" stroke-width="0.3" ><tspan font-family="Liberation Sans, sans-serif" font-size="49" x="0.9 29.9" y="0.0 0.0">50</tspan><tspan font-family="Liberation Mono, monospace" font-size="46" x="58.7 87.7 116.7 145.7 174.7 203.7 232.7 261.7 290.7 319.7 348.7 377.7 406.7" y="0.0 0.0 0.0 0.0 0.0 0.0 0.0 0.0 0.0 0.0 0.0 0.0 0.0">% slaked lime</tspan></text><rect x="350.9" y="791.7" width="115.3" height="3.4" fill="#33BB00"/><path d="M392.5 793.4H424.5M408.5 777.4V809.4" stroke="#33BB00" stroke-width="3.5" fill="none"/><text transform="translate(494.5,812.7) scale(1,1.15)" stroke="#fff" stroke-width="0.3" ><tspan font-family="Liberation Sans, sans-serif" font-size="49" x="0.9 29.9" y="0.0 0.0">70</tspan><tspan font-family="Liberation Mono, monospace" font-size="46" x="58.7 87.7 116.7 145.7 174.7 203.7 232.7 261.7 290.7 319.7 348.7 377.7 406.7" y="0.0 0.0 0.0 0.0 0.0 0.0 0.0 0.0 0.0 0.0 0.0 0.0 0.0">% slaked lime</tspan></text></svg></body></html>
